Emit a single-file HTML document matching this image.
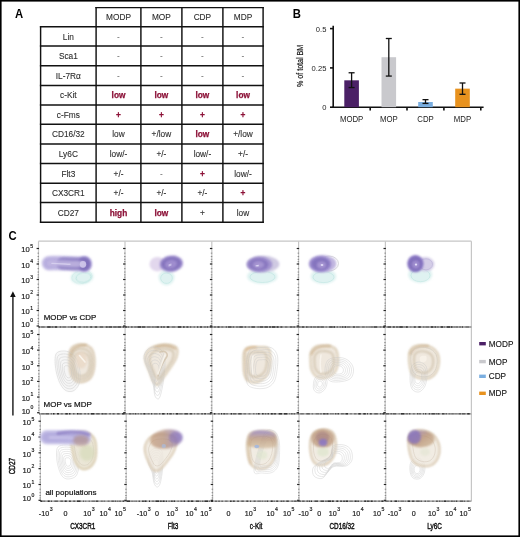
<!DOCTYPE html><html><head><meta charset="utf-8"><style>
html,body{margin:0;padding:0;background:#fff;}
#r{position:relative;width:520px;height:537px;overflow:hidden;background:#fff;}
svg{position:absolute;left:0;top:0;filter:blur(0.25px);}
text{font-family:"Liberation Sans",sans-serif;}
</style></head><body><div id="r">
<svg width="520" height="537" viewBox="0 0 520 537">
<defs><filter id="b1" filterUnits="userSpaceOnUse" x="0" y="0" width="520" height="537"><feGaussianBlur stdDeviation="0.9"/></filter><filter id="b2" filterUnits="userSpaceOnUse" x="0" y="0" width="520" height="537"><feGaussianBlur stdDeviation="1.6"/></filter><filter id="b05" filterUnits="userSpaceOnUse" x="0" y="0" width="520" height="537"><feGaussianBlur stdDeviation="0.45"/></filter></defs>
<text transform="translate(14.9,17.6) scale(0.92,1)" font-size="12.3" font-weight="bold" fill="#000">A</text>
<text transform="translate(292.8,17.8) scale(0.92,1)" font-size="12.3" font-weight="bold" fill="#000">B</text>
<text transform="translate(8.6,239.5) scale(0.92,1)" font-size="12.3" font-weight="bold" fill="#000">C</text>
<g stroke="#111" stroke-width="1.45"><line x1="40.6" y1="26.075" x2="40.6" y2="222.92499999999998"/><line x1="96.1" y1="6.875" x2="96.1" y2="222.92499999999998"/><line x1="140.9" y1="6.875" x2="140.9" y2="222.92499999999998"/><line x1="181.9" y1="6.875" x2="181.9" y2="222.92499999999998"/><line x1="222.9" y1="6.875" x2="222.9" y2="222.92499999999998"/><line x1="263.1" y1="6.875" x2="263.1" y2="222.92499999999998"/><line x1="95.375" y1="7.6" x2="263.82500000000005" y2="7.6"/><line x1="39.875" y1="26.8" x2="263.82500000000005" y2="26.8"/><line x1="39.875" y1="46.0" x2="263.82500000000005" y2="46.0"/><line x1="39.875" y1="65.8" x2="263.82500000000005" y2="65.8"/><line x1="39.875" y1="85.5" x2="263.82500000000005" y2="85.5"/><line x1="39.875" y1="105.0" x2="263.82500000000005" y2="105.0"/><line x1="39.875" y1="124.3" x2="263.82500000000005" y2="124.3"/><line x1="39.875" y1="144.0" x2="263.82500000000005" y2="144.0"/><line x1="39.875" y1="163.5" x2="263.82500000000005" y2="163.5"/><line x1="39.875" y1="183.3" x2="263.82500000000005" y2="183.3"/><line x1="39.875" y1="202.5" x2="263.82500000000005" y2="202.5"/><line x1="39.875" y1="222.2" x2="263.82500000000005" y2="222.2"/></g>
<text x="118.50" y="20.40" font-size="8.3" fill="#2b2b2b" stroke="#2b2b2b" stroke-width="0.1" text-anchor="middle">MODP</text>
<text x="161.40" y="20.40" font-size="8.3" fill="#2b2b2b" stroke="#2b2b2b" stroke-width="0.1" text-anchor="middle">MOP</text>
<text x="202.40" y="20.40" font-size="8.3" fill="#2b2b2b" stroke="#2b2b2b" stroke-width="0.1" text-anchor="middle">CDP</text>
<text x="243.00" y="20.40" font-size="8.3" fill="#2b2b2b" stroke="#2b2b2b" stroke-width="0.1" text-anchor="middle">MDP</text>
<text x="68.35" y="39.60" font-size="8.3" fill="#2b2b2b" stroke="#2b2b2b" stroke-width="0.1" text-anchor="middle">Lin</text>
<text x="118.50" y="39.60" font-size="8.3" fill="#666" stroke="none" stroke-width="0.1" text-anchor="middle">-</text>
<text x="161.40" y="39.60" font-size="8.3" fill="#666" stroke="none" stroke-width="0.1" text-anchor="middle">-</text>
<text x="202.40" y="39.60" font-size="8.3" fill="#666" stroke="none" stroke-width="0.1" text-anchor="middle">-</text>
<text x="243.00" y="39.60" font-size="8.3" fill="#666" stroke="none" stroke-width="0.1" text-anchor="middle">-</text>
<text x="68.35" y="59.10" font-size="8.3" fill="#2b2b2b" stroke="#2b2b2b" stroke-width="0.1" text-anchor="middle">Sca1</text>
<text x="118.50" y="59.10" font-size="8.3" fill="#666" stroke="none" stroke-width="0.1" text-anchor="middle">-</text>
<text x="161.40" y="59.10" font-size="8.3" fill="#666" stroke="none" stroke-width="0.1" text-anchor="middle">-</text>
<text x="202.40" y="59.10" font-size="8.3" fill="#666" stroke="none" stroke-width="0.1" text-anchor="middle">-</text>
<text x="243.00" y="59.10" font-size="8.3" fill="#666" stroke="none" stroke-width="0.1" text-anchor="middle">-</text>
<text x="68.35" y="78.85" font-size="8.3" fill="#2b2b2b" stroke="#2b2b2b" stroke-width="0.1" text-anchor="middle">IL-7Rα</text>
<text x="118.50" y="78.85" font-size="8.3" fill="#666" stroke="none" stroke-width="0.1" text-anchor="middle">-</text>
<text x="161.40" y="78.85" font-size="8.3" fill="#666" stroke="none" stroke-width="0.1" text-anchor="middle">-</text>
<text x="202.40" y="78.85" font-size="8.3" fill="#666" stroke="none" stroke-width="0.1" text-anchor="middle">-</text>
<text x="243.00" y="78.85" font-size="8.3" fill="#666" stroke="none" stroke-width="0.1" text-anchor="middle">-</text>
<text x="68.35" y="98.45" font-size="8.3" fill="#2b2b2b" stroke="#2b2b2b" stroke-width="0.1" text-anchor="middle">c-Kit</text>
<text x="118.50" y="98.45" font-size="8.3" font-weight="bold" fill="#8c1238" stroke="#8c1238" stroke-width="0.25" text-anchor="middle">low</text>
<text x="161.40" y="98.45" font-size="8.3" font-weight="bold" fill="#8c1238" stroke="#8c1238" stroke-width="0.25" text-anchor="middle">low</text>
<text x="202.40" y="98.45" font-size="8.3" font-weight="bold" fill="#8c1238" stroke="#8c1238" stroke-width="0.25" text-anchor="middle">low</text>
<text x="243.00" y="98.45" font-size="8.3" font-weight="bold" fill="#8c1238" stroke="#8c1238" stroke-width="0.25" text-anchor="middle">low</text>
<text x="68.35" y="117.85" font-size="8.3" fill="#2b2b2b" stroke="#2b2b2b" stroke-width="0.1" text-anchor="middle">c-Fms</text>
<text x="118.50" y="117.85" font-size="8.3" font-weight="bold" fill="#8c1238" stroke="#8c1238" stroke-width="0.25" text-anchor="middle">+</text>
<text x="161.40" y="117.85" font-size="8.3" font-weight="bold" fill="#8c1238" stroke="#8c1238" stroke-width="0.25" text-anchor="middle">+</text>
<text x="202.40" y="117.85" font-size="8.3" font-weight="bold" fill="#8c1238" stroke="#8c1238" stroke-width="0.25" text-anchor="middle">+</text>
<text x="243.00" y="117.85" font-size="8.3" font-weight="bold" fill="#8c1238" stroke="#8c1238" stroke-width="0.25" text-anchor="middle">+</text>
<text x="68.35" y="137.35" font-size="8.3" fill="#2b2b2b" stroke="#2b2b2b" stroke-width="0.1" text-anchor="middle">CD16/32</text>
<text x="118.50" y="137.35" font-size="8.3" fill="#2b2b2b" stroke="#2b2b2b" stroke-width="0.1" text-anchor="middle">low</text>
<text x="161.40" y="137.35" font-size="8.3" fill="#2b2b2b" stroke="#2b2b2b" stroke-width="0.1" text-anchor="middle">+/low</text>
<text x="202.40" y="137.35" font-size="8.3" font-weight="bold" fill="#8c1238" stroke="#8c1238" stroke-width="0.25" text-anchor="middle">low</text>
<text x="243.00" y="137.35" font-size="8.3" fill="#2b2b2b" stroke="#2b2b2b" stroke-width="0.1" text-anchor="middle">+/low</text>
<text x="68.35" y="156.95" font-size="8.3" fill="#2b2b2b" stroke="#2b2b2b" stroke-width="0.1" text-anchor="middle">Ly6C</text>
<text x="118.50" y="156.95" font-size="8.3" fill="#2b2b2b" stroke="#2b2b2b" stroke-width="0.1" text-anchor="middle">low/-</text>
<text x="161.40" y="156.95" font-size="8.3" fill="#2b2b2b" stroke="#2b2b2b" stroke-width="0.1" text-anchor="middle">+/-</text>
<text x="202.40" y="156.95" font-size="8.3" fill="#2b2b2b" stroke="#2b2b2b" stroke-width="0.1" text-anchor="middle">low/-</text>
<text x="243.00" y="156.95" font-size="8.3" fill="#2b2b2b" stroke="#2b2b2b" stroke-width="0.1" text-anchor="middle">+/-</text>
<text x="68.35" y="176.60" font-size="8.3" fill="#2b2b2b" stroke="#2b2b2b" stroke-width="0.1" text-anchor="middle">Flt3</text>
<text x="118.50" y="176.60" font-size="8.3" fill="#2b2b2b" stroke="#2b2b2b" stroke-width="0.1" text-anchor="middle">+/-</text>
<text x="161.40" y="176.60" font-size="8.3" fill="#666" stroke="none" stroke-width="0.1" text-anchor="middle">-</text>
<text x="202.40" y="176.60" font-size="8.3" font-weight="bold" fill="#8c1238" stroke="#8c1238" stroke-width="0.25" text-anchor="middle">+</text>
<text x="243.00" y="176.60" font-size="8.3" fill="#2b2b2b" stroke="#2b2b2b" stroke-width="0.1" text-anchor="middle">low/-</text>
<text x="68.35" y="196.10" font-size="8.3" fill="#2b2b2b" stroke="#2b2b2b" stroke-width="0.1" text-anchor="middle">CX3CR1</text>
<text x="118.50" y="196.10" font-size="8.3" fill="#2b2b2b" stroke="#2b2b2b" stroke-width="0.1" text-anchor="middle">+/-</text>
<text x="161.40" y="196.10" font-size="8.3" fill="#2b2b2b" stroke="#2b2b2b" stroke-width="0.1" text-anchor="middle">+/-</text>
<text x="202.40" y="196.10" font-size="8.3" fill="#2b2b2b" stroke="#2b2b2b" stroke-width="0.1" text-anchor="middle">+/-</text>
<text x="243.00" y="196.10" font-size="8.3" font-weight="bold" fill="#8c1238" stroke="#8c1238" stroke-width="0.25" text-anchor="middle">+</text>
<text x="68.35" y="215.55" font-size="8.3" fill="#2b2b2b" stroke="#2b2b2b" stroke-width="0.1" text-anchor="middle">CD27</text>
<text x="118.50" y="215.55" font-size="8.3" font-weight="bold" fill="#8c1238" stroke="#8c1238" stroke-width="0.25" text-anchor="middle">high</text>
<text x="161.40" y="215.55" font-size="8.3" font-weight="bold" fill="#8c1238" stroke="#8c1238" stroke-width="0.25" text-anchor="middle">low</text>
<text x="202.40" y="215.55" font-size="8.3" fill="#2b2b2b" stroke="#2b2b2b" stroke-width="0.1" text-anchor="middle">+</text>
<text x="243.00" y="215.55" font-size="8.3" fill="#2b2b2b" stroke="#2b2b2b" stroke-width="0.1" text-anchor="middle">low</text>
<g stroke="#111" stroke-width="1.6" fill="none"><line x1="333.2" y1="25.8" x2="333.2" y2="108.0"/><line x1="332.4" y1="107.2" x2="483.6" y2="107.2"/><line x1="330" y1="28.6" x2="333.2" y2="28.6"/><line x1="330" y1="67.90" x2="333.2" y2="67.90"/><line x1="330" y1="107.2" x2="333.2" y2="107.2"/><line x1="370.2" y1="107.2" x2="370.2" y2="110.6"/><line x1="407.0" y1="107.2" x2="407.0" y2="110.6"/><line x1="443.9" y1="107.2" x2="443.9" y2="110.6"/><line x1="480.8" y1="107.2" x2="480.8" y2="110.6"/></g>
<g font-size="8" fill="#222" text-anchor="end"><text transform="translate(326.4,31.50) scale(0.95,1)">0.5</text><text transform="translate(326.4,70.80) scale(0.95,1)">0.25</text><text transform="translate(326.4,110.10) scale(0.95,1)">0</text></g>
<text transform="translate(302.8,65.9) rotate(-90) scale(0.84,1)" font-size="8.5" fill="#1a1a1a" stroke="#1a1a1a" stroke-width="0.2" text-anchor="middle">% of total BM</text>
<rect x="344.30" y="80.32" width="14.6" height="26.88" fill="#4b2066"/>
<rect x="381.50" y="57.21" width="14.6" height="49.99" fill="#c9c9cd"/>
<rect x="418.20" y="102.01" width="14.6" height="5.19" fill="#7aaee0"/>
<rect x="455.20" y="88.65" width="14.6" height="18.55" fill="#e8921e"/>
<g stroke="#111" stroke-width="1.3"><line x1="351.6" y1="72.77" x2="351.6" y2="87.55"/><line x1="348.6" y1="72.77" x2="354.6" y2="72.77"/><line x1="348.6" y1="87.55" x2="354.6" y2="87.55"/></g>
<g stroke="#111" stroke-width="1.3"><line x1="388.8" y1="38.50" x2="388.8" y2="76.07"/><line x1="385.8" y1="38.50" x2="391.8" y2="38.50"/><line x1="385.8" y1="76.07" x2="391.8" y2="76.07"/></g>
<g stroke="#111" stroke-width="1.3"><line x1="425.5" y1="99.65" x2="425.5" y2="103.43"/><line x1="422.5" y1="99.65" x2="428.5" y2="99.65"/><line x1="422.5" y1="103.43" x2="428.5" y2="103.43"/></g>
<g stroke="#111" stroke-width="1.3"><line x1="462.5" y1="82.99" x2="462.5" y2="94.31"/><line x1="459.5" y1="82.99" x2="465.5" y2="82.99"/><line x1="459.5" y1="94.31" x2="465.5" y2="94.31"/></g>
<g font-size="8.4" fill="#222" text-anchor="middle"><text transform="translate(351.6,121.9) scale(0.93,1)">MODP</text><text transform="translate(388.8,121.9) scale(0.93,1)">MOP</text><text transform="translate(425.5,121.9) scale(0.93,1)">CDP</text><text transform="translate(462.5,121.9) scale(0.93,1)">MDP</text></g>
<g stroke="#c6c6c6" stroke-width="1.2"><line x1="38.5" y1="241.2" x2="471.4" y2="241.2"/><line x1="38.5" y1="241.2" x2="38.5" y2="327.0"/><line x1="125.0" y1="241.2" x2="125.0" y2="327.0"/><line x1="211.8" y1="241.2" x2="211.8" y2="327.0"/><line x1="298.6" y1="241.2" x2="298.6" y2="327.0"/><line x1="385.4" y1="241.2" x2="385.4" y2="327.0"/><line x1="471.4" y1="241.2" x2="471.4" y2="327.0"/><line x1="39.0" y1="327.0" x2="39.0" y2="413.8"/><line x1="125.1" y1="327.0" x2="125.1" y2="413.8"/><line x1="211.8" y1="327.0" x2="211.8" y2="413.8"/><line x1="298.5" y1="327.0" x2="298.5" y2="413.8"/><line x1="385.2" y1="327.0" x2="385.2" y2="413.8"/><line x1="471.4" y1="327.0" x2="471.4" y2="413.8"/><line x1="40.4" y1="413.8" x2="40.4" y2="501.2"/><line x1="126.2" y1="413.8" x2="126.2" y2="501.2"/><line x1="212.6" y1="413.8" x2="212.6" y2="501.2"/><line x1="299.0" y1="413.8" x2="299.0" y2="501.2"/><line x1="385.7" y1="413.8" x2="385.7" y2="501.2"/><line x1="471.4" y1="413.8" x2="471.4" y2="501.2"/></g>
<g stroke="#8a8a8a" stroke-width="1.3"><line x1="38.5" y1="327.0" x2="471.4" y2="327.0"/><line x1="39.0" y1="413.8" x2="471.4" y2="413.8"/><line x1="40.4" y1="501.2" x2="471.4" y2="501.2"/></g>
<g stroke="#111" stroke-width="1.5"><line x1="38.5" y1="327.0" x2="40.0" y2="327.0" stroke-opacity="0.65"/><line x1="41.2" y1="327.0" x2="44.7" y2="327.0" stroke-opacity="0.35"/><line x1="47.2" y1="327.0" x2="50.7" y2="327.0" stroke-opacity="0.8"/><line x1="51.5" y1="327.0" x2="53.5" y2="327.0" stroke-opacity="0.5"/><line x1="54.7" y1="327.0" x2="57.2" y2="327.0" stroke-opacity="0.8"/><line x1="59.7" y1="327.0" x2="61.2" y2="327.0" stroke-opacity="0.5"/><line x1="62.4" y1="327.0" x2="65.9" y2="327.0" stroke-opacity="0.35"/><line x1="68.4" y1="327.0" x2="69.4" y2="327.0" stroke-opacity="0.35"/><line x1="70.6" y1="327.0" x2="72.6" y2="327.0" stroke-opacity="0.65"/><line x1="73.4" y1="327.0" x2="75.9" y2="327.0" stroke-opacity="0.8"/><line x1="78.4" y1="327.0" x2="80.9" y2="327.0" stroke-opacity="0.5"/><line x1="83.4" y1="327.0" x2="85.4" y2="327.0" stroke-opacity="0.35"/><line x1="86.2" y1="327.0" x2="87.7" y2="327.0" stroke-opacity="0.5"/><line x1="90.2" y1="327.0" x2="92.2" y2="327.0" stroke-opacity="0.65"/><line x1="94.7" y1="327.0" x2="97.2" y2="327.0" stroke-opacity="0.65"/><line x1="99.7" y1="327.0" x2="103.2" y2="327.0" stroke-opacity="0.5"/><line x1="105.7" y1="327.0" x2="107.7" y2="327.0" stroke-opacity="0.65"/><line x1="108.5" y1="327.0" x2="112.0" y2="327.0" stroke-opacity="0.65"/><line x1="113.2" y1="327.0" x2="116.7" y2="327.0" stroke-opacity="0.5"/><line x1="117.5" y1="327.0" x2="121.0" y2="327.0" stroke-opacity="0.65"/><line x1="122.8" y1="327.0" x2="123.8" y2="327.0" stroke-opacity="0.8"/><line x1="124.6" y1="327.0" x2="127.1" y2="327.0" stroke-opacity="0.65"/><line x1="127.9" y1="327.0" x2="128.9" y2="327.0" stroke-opacity="0.5"/><line x1="131.4" y1="327.0" x2="132.4" y2="327.0" stroke-opacity="0.8"/><line x1="134.2" y1="327.0" x2="136.7" y2="327.0" stroke-opacity="0.35"/><line x1="137.5" y1="327.0" x2="141.0" y2="327.0" stroke-opacity="0.8"/><line x1="141.8" y1="327.0" x2="145.3" y2="327.0" stroke-opacity="0.65"/><line x1="147.1" y1="327.0" x2="150.6" y2="327.0" stroke-opacity="0.35"/><line x1="151.8" y1="327.0" x2="153.8" y2="327.0" stroke-opacity="0.35"/><line x1="154.6" y1="327.0" x2="155.6" y2="327.0" stroke-opacity="0.5"/><line x1="156.4" y1="327.0" x2="158.9" y2="327.0" stroke-opacity="0.65"/><line x1="160.7" y1="327.0" x2="162.2" y2="327.0" stroke-opacity="0.65"/><line x1="163.0" y1="327.0" x2="165.0" y2="327.0" stroke-opacity="0.5"/><line x1="166.8" y1="327.0" x2="169.3" y2="327.0" stroke-opacity="0.8"/><line x1="171.8" y1="327.0" x2="175.3" y2="327.0" stroke-opacity="0.35"/><line x1="177.8" y1="327.0" x2="181.3" y2="327.0" stroke-opacity="0.8"/><line x1="183.1" y1="327.0" x2="184.6" y2="327.0" stroke-opacity="0.8"/><line x1="186.4" y1="327.0" x2="188.4" y2="327.0" stroke-opacity="0.65"/><line x1="190.2" y1="327.0" x2="191.2" y2="327.0" stroke-opacity="0.65"/><line x1="193.7" y1="327.0" x2="194.7" y2="327.0" stroke-opacity="0.5"/><line x1="197.2" y1="327.0" x2="198.2" y2="327.0" stroke-opacity="0.8"/><line x1="200.0" y1="327.0" x2="202.0" y2="327.0" stroke-opacity="0.65"/><line x1="203.8" y1="327.0" x2="206.3" y2="327.0" stroke-opacity="0.35"/><line x1="207.1" y1="327.0" x2="208.1" y2="327.0" stroke-opacity="0.65"/><line x1="209.9" y1="327.0" x2="212.4" y2="327.0" stroke-opacity="0.65"/><line x1="214.2" y1="327.0" x2="215.7" y2="327.0" stroke-opacity="0.5"/><line x1="217.5" y1="327.0" x2="219.5" y2="327.0" stroke-opacity="0.65"/><line x1="221.3" y1="327.0" x2="223.3" y2="327.0" stroke-opacity="0.35"/><line x1="225.8" y1="327.0" x2="226.8" y2="327.0" stroke-opacity="0.65"/><line x1="228.0" y1="327.0" x2="231.5" y2="327.0" stroke-opacity="0.65"/><line x1="232.7" y1="327.0" x2="234.2" y2="327.0" stroke-opacity="0.5"/><line x1="236.0" y1="327.0" x2="238.5" y2="327.0" stroke-opacity="0.35"/><line x1="239.3" y1="327.0" x2="242.8" y2="327.0" stroke-opacity="0.65"/><line x1="244.6" y1="327.0" x2="246.1" y2="327.0" stroke-opacity="0.5"/><line x1="248.6" y1="327.0" x2="249.6" y2="327.0" stroke-opacity="0.5"/><line x1="251.4" y1="327.0" x2="254.9" y2="327.0" stroke-opacity="0.65"/><line x1="257.4" y1="327.0" x2="258.9" y2="327.0" stroke-opacity="0.35"/><line x1="259.7" y1="327.0" x2="263.2" y2="327.0" stroke-opacity="0.65"/><line x1="264.4" y1="327.0" x2="267.9" y2="327.0" stroke-opacity="0.65"/><line x1="269.1" y1="327.0" x2="271.1" y2="327.0" stroke-opacity="0.65"/><line x1="271.9" y1="327.0" x2="275.4" y2="327.0" stroke-opacity="0.8"/><line x1="276.6" y1="327.0" x2="278.6" y2="327.0" stroke-opacity="0.8"/><line x1="280.4" y1="327.0" x2="282.4" y2="327.0" stroke-opacity="0.65"/><line x1="284.9" y1="327.0" x2="287.4" y2="327.0" stroke-opacity="0.35"/><line x1="289.9" y1="327.0" x2="292.4" y2="327.0" stroke-opacity="0.5"/><line x1="293.6" y1="327.0" x2="294.6" y2="327.0" stroke-opacity="0.8"/><line x1="297.1" y1="327.0" x2="300.6" y2="327.0" stroke-opacity="0.35"/><line x1="301.8" y1="327.0" x2="304.3" y2="327.0" stroke-opacity="0.65"/><line x1="306.1" y1="327.0" x2="307.6" y2="327.0" stroke-opacity="0.65"/><line x1="308.4" y1="327.0" x2="309.4" y2="327.0" stroke-opacity="0.35"/><line x1="310.6" y1="327.0" x2="311.6" y2="327.0" stroke-opacity="0.8"/><line x1="312.8" y1="327.0" x2="316.3" y2="327.0" stroke-opacity="0.35"/><line x1="317.1" y1="327.0" x2="319.6" y2="327.0" stroke-opacity="0.5"/><line x1="320.4" y1="327.0" x2="323.9" y2="327.0" stroke-opacity="0.5"/><line x1="325.7" y1="327.0" x2="326.7" y2="327.0" stroke-opacity="0.35"/><line x1="329.2" y1="327.0" x2="332.7" y2="327.0" stroke-opacity="0.65"/><line x1="333.5" y1="327.0" x2="335.0" y2="327.0" stroke-opacity="0.8"/><line x1="336.8" y1="327.0" x2="337.8" y2="327.0" stroke-opacity="0.5"/><line x1="339.6" y1="327.0" x2="341.1" y2="327.0" stroke-opacity="0.35"/><line x1="341.9" y1="327.0" x2="343.4" y2="327.0" stroke-opacity="0.65"/><line x1="344.6" y1="327.0" x2="346.1" y2="327.0" stroke-opacity="0.8"/><line x1="346.9" y1="327.0" x2="350.4" y2="327.0" stroke-opacity="0.35"/><line x1="352.9" y1="327.0" x2="354.9" y2="327.0" stroke-opacity="0.65"/><line x1="356.1" y1="327.0" x2="359.6" y2="327.0" stroke-opacity="0.35"/><line x1="362.1" y1="327.0" x2="364.6" y2="327.0" stroke-opacity="0.35"/><line x1="366.4" y1="327.0" x2="367.4" y2="327.0" stroke-opacity="0.35"/><line x1="368.6" y1="327.0" x2="369.6" y2="327.0" stroke-opacity="0.35"/><line x1="370.4" y1="327.0" x2="372.9" y2="327.0" stroke-opacity="0.35"/><line x1="373.7" y1="327.0" x2="377.2" y2="327.0" stroke-opacity="0.65"/><line x1="379.7" y1="327.0" x2="381.2" y2="327.0" stroke-opacity="0.35"/><line x1="383.0" y1="327.0" x2="385.0" y2="327.0" stroke-opacity="0.8"/><line x1="387.5" y1="327.0" x2="391.0" y2="327.0" stroke-opacity="0.65"/><line x1="392.8" y1="327.0" x2="394.8" y2="327.0" stroke-opacity="0.65"/><line x1="396.0" y1="327.0" x2="398.5" y2="327.0" stroke-opacity="0.5"/><line x1="399.3" y1="327.0" x2="402.8" y2="327.0" stroke-opacity="0.8"/><line x1="403.6" y1="327.0" x2="404.6" y2="327.0" stroke-opacity="0.35"/><line x1="405.8" y1="327.0" x2="407.8" y2="327.0" stroke-opacity="0.8"/><line x1="410.3" y1="327.0" x2="411.3" y2="327.0" stroke-opacity="0.35"/><line x1="413.8" y1="327.0" x2="415.8" y2="327.0" stroke-opacity="0.65"/><line x1="418.3" y1="327.0" x2="420.8" y2="327.0" stroke-opacity="0.8"/><line x1="423.3" y1="327.0" x2="424.3" y2="327.0" stroke-opacity="0.5"/><line x1="425.5" y1="327.0" x2="429.0" y2="327.0" stroke-opacity="0.35"/><line x1="430.8" y1="327.0" x2="433.3" y2="327.0" stroke-opacity="0.8"/><line x1="434.5" y1="327.0" x2="436.0" y2="327.0" stroke-opacity="0.65"/><line x1="436.8" y1="327.0" x2="438.8" y2="327.0" stroke-opacity="0.35"/><line x1="440.6" y1="327.0" x2="443.1" y2="327.0" stroke-opacity="0.8"/><line x1="443.9" y1="327.0" x2="444.9" y2="327.0" stroke-opacity="0.35"/><line x1="446.7" y1="327.0" x2="450.2" y2="327.0" stroke-opacity="0.8"/><line x1="451.0" y1="327.0" x2="452.5" y2="327.0" stroke-opacity="0.8"/><line x1="453.7" y1="327.0" x2="454.7" y2="327.0" stroke-opacity="0.35"/><line x1="455.5" y1="327.0" x2="458.0" y2="327.0" stroke-opacity="0.35"/><line x1="459.2" y1="327.0" x2="461.2" y2="327.0" stroke-opacity="0.35"/><line x1="462.0" y1="327.0" x2="463.0" y2="327.0" stroke-opacity="0.65"/><line x1="465.5" y1="327.0" x2="469.0" y2="327.0" stroke-opacity="0.35"/><line x1="39.0" y1="413.8" x2="40.0" y2="413.8" stroke-opacity="0.35"/><line x1="41.2" y1="413.8" x2="44.7" y2="413.8" stroke-opacity="0.35"/><line x1="45.5" y1="413.8" x2="49.0" y2="413.8" stroke-opacity="0.5"/><line x1="50.8" y1="413.8" x2="51.8" y2="413.8" stroke-opacity="0.5"/><line x1="53.0" y1="413.8" x2="54.5" y2="413.8" stroke-opacity="0.8"/><line x1="57.0" y1="413.8" x2="59.0" y2="413.8" stroke-opacity="0.8"/><line x1="60.8" y1="413.8" x2="62.8" y2="413.8" stroke-opacity="0.35"/><line x1="65.3" y1="413.8" x2="67.8" y2="413.8" stroke-opacity="0.8"/><line x1="69.0" y1="413.8" x2="70.5" y2="413.8" stroke-opacity="0.8"/><line x1="73.0" y1="413.8" x2="74.5" y2="413.8" stroke-opacity="0.5"/><line x1="77.0" y1="413.8" x2="78.5" y2="413.8" stroke-opacity="0.8"/><line x1="79.3" y1="413.8" x2="81.8" y2="413.8" stroke-opacity="0.5"/><line x1="84.3" y1="413.8" x2="85.8" y2="413.8" stroke-opacity="0.5"/><line x1="87.6" y1="413.8" x2="89.1" y2="413.8" stroke-opacity="0.5"/><line x1="90.9" y1="413.8" x2="94.4" y2="413.8" stroke-opacity="0.8"/><line x1="96.2" y1="413.8" x2="99.7" y2="413.8" stroke-opacity="0.5"/><line x1="101.5" y1="413.8" x2="103.5" y2="413.8" stroke-opacity="0.65"/><line x1="104.3" y1="413.8" x2="106.8" y2="413.8" stroke-opacity="0.5"/><line x1="109.3" y1="413.8" x2="110.8" y2="413.8" stroke-opacity="0.5"/><line x1="112.6" y1="413.8" x2="114.6" y2="413.8" stroke-opacity="0.5"/><line x1="117.1" y1="413.8" x2="119.6" y2="413.8" stroke-opacity="0.5"/><line x1="122.1" y1="413.8" x2="124.6" y2="413.8" stroke-opacity="0.8"/><line x1="125.4" y1="413.8" x2="126.4" y2="413.8" stroke-opacity="0.35"/><line x1="128.9" y1="413.8" x2="131.4" y2="413.8" stroke-opacity="0.5"/><line x1="132.6" y1="413.8" x2="133.6" y2="413.8" stroke-opacity="0.65"/><line x1="134.8" y1="413.8" x2="136.3" y2="413.8" stroke-opacity="0.65"/><line x1="137.5" y1="413.8" x2="139.0" y2="413.8" stroke-opacity="0.35"/><line x1="140.2" y1="413.8" x2="142.2" y2="413.8" stroke-opacity="0.35"/><line x1="143.4" y1="413.8" x2="145.4" y2="413.8" stroke-opacity="0.8"/><line x1="146.6" y1="413.8" x2="147.6" y2="413.8" stroke-opacity="0.35"/><line x1="148.4" y1="413.8" x2="149.4" y2="413.8" stroke-opacity="0.65"/><line x1="151.2" y1="413.8" x2="152.2" y2="413.8" stroke-opacity="0.8"/><line x1="154.0" y1="413.8" x2="157.5" y2="413.8" stroke-opacity="0.35"/><line x1="159.3" y1="413.8" x2="160.3" y2="413.8" stroke-opacity="0.65"/><line x1="162.1" y1="413.8" x2="164.6" y2="413.8" stroke-opacity="0.8"/><line x1="167.1" y1="413.8" x2="168.1" y2="413.8" stroke-opacity="0.8"/><line x1="169.3" y1="413.8" x2="171.8" y2="413.8" stroke-opacity="0.65"/><line x1="173.0" y1="413.8" x2="174.0" y2="413.8" stroke-opacity="0.35"/><line x1="175.8" y1="413.8" x2="178.3" y2="413.8" stroke-opacity="0.8"/><line x1="179.1" y1="413.8" x2="182.6" y2="413.8" stroke-opacity="0.35"/><line x1="184.4" y1="413.8" x2="187.9" y2="413.8" stroke-opacity="0.65"/><line x1="189.7" y1="413.8" x2="192.2" y2="413.8" stroke-opacity="0.65"/><line x1="194.0" y1="413.8" x2="195.0" y2="413.8" stroke-opacity="0.35"/><line x1="196.8" y1="413.8" x2="199.3" y2="413.8" stroke-opacity="0.35"/><line x1="201.1" y1="413.8" x2="203.1" y2="413.8" stroke-opacity="0.5"/><line x1="204.3" y1="413.8" x2="205.8" y2="413.8" stroke-opacity="0.8"/><line x1="207.6" y1="413.8" x2="208.6" y2="413.8" stroke-opacity="0.5"/><line x1="209.4" y1="413.8" x2="211.4" y2="413.8" stroke-opacity="0.65"/><line x1="213.9" y1="413.8" x2="215.4" y2="413.8" stroke-opacity="0.8"/><line x1="217.9" y1="413.8" x2="219.9" y2="413.8" stroke-opacity="0.35"/><line x1="221.1" y1="413.8" x2="222.1" y2="413.8" stroke-opacity="0.8"/><line x1="223.3" y1="413.8" x2="225.3" y2="413.8" stroke-opacity="0.65"/><line x1="226.1" y1="413.8" x2="228.1" y2="413.8" stroke-opacity="0.35"/><line x1="230.6" y1="413.8" x2="232.1" y2="413.8" stroke-opacity="0.8"/><line x1="232.9" y1="413.8" x2="236.4" y2="413.8" stroke-opacity="0.5"/><line x1="238.2" y1="413.8" x2="241.7" y2="413.8" stroke-opacity="0.65"/><line x1="243.5" y1="413.8" x2="246.0" y2="413.8" stroke-opacity="0.35"/><line x1="248.5" y1="413.8" x2="250.5" y2="413.8" stroke-opacity="0.35"/><line x1="253.0" y1="413.8" x2="254.5" y2="413.8" stroke-opacity="0.35"/><line x1="256.3" y1="413.8" x2="257.3" y2="413.8" stroke-opacity="0.5"/><line x1="258.1" y1="413.8" x2="259.6" y2="413.8" stroke-opacity="0.8"/><line x1="262.1" y1="413.8" x2="263.6" y2="413.8" stroke-opacity="0.8"/><line x1="264.8" y1="413.8" x2="266.3" y2="413.8" stroke-opacity="0.5"/><line x1="267.5" y1="413.8" x2="269.0" y2="413.8" stroke-opacity="0.65"/><line x1="270.8" y1="413.8" x2="272.8" y2="413.8" stroke-opacity="0.8"/><line x1="273.6" y1="413.8" x2="276.1" y2="413.8" stroke-opacity="0.65"/><line x1="278.6" y1="413.8" x2="282.1" y2="413.8" stroke-opacity="0.8"/><line x1="283.9" y1="413.8" x2="287.4" y2="413.8" stroke-opacity="0.8"/><line x1="289.2" y1="413.8" x2="290.2" y2="413.8" stroke-opacity="0.35"/><line x1="291.4" y1="413.8" x2="292.4" y2="413.8" stroke-opacity="0.8"/><line x1="293.6" y1="413.8" x2="295.1" y2="413.8" stroke-opacity="0.5"/><line x1="297.6" y1="413.8" x2="299.1" y2="413.8" stroke-opacity="0.35"/><line x1="300.3" y1="413.8" x2="303.8" y2="413.8" stroke-opacity="0.35"/><line x1="306.3" y1="413.8" x2="309.8" y2="413.8" stroke-opacity="0.5"/><line x1="311.6" y1="413.8" x2="313.1" y2="413.8" stroke-opacity="0.35"/><line x1="315.6" y1="413.8" x2="319.1" y2="413.8" stroke-opacity="0.35"/><line x1="319.9" y1="413.8" x2="321.9" y2="413.8" stroke-opacity="0.35"/><line x1="323.1" y1="413.8" x2="325.6" y2="413.8" stroke-opacity="0.65"/><line x1="326.4" y1="413.8" x2="328.4" y2="413.8" stroke-opacity="0.65"/><line x1="330.2" y1="413.8" x2="331.7" y2="413.8" stroke-opacity="0.35"/><line x1="332.5" y1="413.8" x2="333.5" y2="413.8" stroke-opacity="0.5"/><line x1="335.3" y1="413.8" x2="336.3" y2="413.8" stroke-opacity="0.8"/><line x1="337.5" y1="413.8" x2="339.0" y2="413.8" stroke-opacity="0.65"/><line x1="341.5" y1="413.8" x2="342.5" y2="413.8" stroke-opacity="0.8"/><line x1="343.3" y1="413.8" x2="344.3" y2="413.8" stroke-opacity="0.5"/><line x1="345.5" y1="413.8" x2="348.0" y2="413.8" stroke-opacity="0.8"/><line x1="350.5" y1="413.8" x2="351.5" y2="413.8" stroke-opacity="0.5"/><line x1="354.0" y1="413.8" x2="356.5" y2="413.8" stroke-opacity="0.35"/><line x1="358.3" y1="413.8" x2="360.8" y2="413.8" stroke-opacity="0.8"/><line x1="363.3" y1="413.8" x2="365.8" y2="413.8" stroke-opacity="0.8"/><line x1="367.0" y1="413.8" x2="368.0" y2="413.8" stroke-opacity="0.65"/><line x1="369.8" y1="413.8" x2="371.8" y2="413.8" stroke-opacity="0.65"/><line x1="374.3" y1="413.8" x2="377.8" y2="413.8" stroke-opacity="0.5"/><line x1="380.3" y1="413.8" x2="381.3" y2="413.8" stroke-opacity="0.65"/><line x1="382.5" y1="413.8" x2="384.5" y2="413.8" stroke-opacity="0.8"/><line x1="385.7" y1="413.8" x2="389.2" y2="413.8" stroke-opacity="0.5"/><line x1="390.4" y1="413.8" x2="391.9" y2="413.8" stroke-opacity="0.5"/><line x1="392.7" y1="413.8" x2="396.2" y2="413.8" stroke-opacity="0.5"/><line x1="398.7" y1="413.8" x2="399.7" y2="413.8" stroke-opacity="0.35"/><line x1="400.9" y1="413.8" x2="404.4" y2="413.8" stroke-opacity="0.8"/><line x1="405.6" y1="413.8" x2="408.1" y2="413.8" stroke-opacity="0.35"/><line x1="409.3" y1="413.8" x2="410.3" y2="413.8" stroke-opacity="0.8"/><line x1="412.8" y1="413.8" x2="414.8" y2="413.8" stroke-opacity="0.35"/><line x1="417.3" y1="413.8" x2="418.3" y2="413.8" stroke-opacity="0.8"/><line x1="419.5" y1="413.8" x2="420.5" y2="413.8" stroke-opacity="0.8"/><line x1="423.0" y1="413.8" x2="424.0" y2="413.8" stroke-opacity="0.5"/><line x1="425.2" y1="413.8" x2="426.2" y2="413.8" stroke-opacity="0.8"/><line x1="428.7" y1="413.8" x2="430.2" y2="413.8" stroke-opacity="0.65"/><line x1="431.4" y1="413.8" x2="434.9" y2="413.8" stroke-opacity="0.65"/><line x1="435.7" y1="413.8" x2="436.7" y2="413.8" stroke-opacity="0.65"/><line x1="437.5" y1="413.8" x2="439.5" y2="413.8" stroke-opacity="0.65"/><line x1="442.0" y1="413.8" x2="444.5" y2="413.8" stroke-opacity="0.65"/><line x1="445.7" y1="413.8" x2="446.7" y2="413.8" stroke-opacity="0.65"/><line x1="448.5" y1="413.8" x2="450.5" y2="413.8" stroke-opacity="0.35"/><line x1="451.3" y1="413.8" x2="453.8" y2="413.8" stroke-opacity="0.35"/><line x1="454.6" y1="413.8" x2="455.6" y2="413.8" stroke-opacity="0.35"/><line x1="456.4" y1="413.8" x2="457.4" y2="413.8" stroke-opacity="0.35"/><line x1="458.6" y1="413.8" x2="461.1" y2="413.8" stroke-opacity="0.5"/><line x1="461.9" y1="413.8" x2="465.4" y2="413.8" stroke-opacity="0.5"/><line x1="467.2" y1="413.8" x2="469.7" y2="413.8" stroke-opacity="0.8"/><line x1="40.4" y1="501.2" x2="42.4" y2="501.2" stroke-opacity="0.8"/><line x1="43.2" y1="501.2" x2="45.2" y2="501.2" stroke-opacity="0.35"/><line x1="47.7" y1="501.2" x2="49.7" y2="501.2" stroke-opacity="0.8"/><line x1="50.9" y1="501.2" x2="51.9" y2="501.2" stroke-opacity="0.65"/><line x1="54.4" y1="501.2" x2="57.9" y2="501.2" stroke-opacity="0.5"/><line x1="60.4" y1="501.2" x2="62.9" y2="501.2" stroke-opacity="0.5"/><line x1="64.7" y1="501.2" x2="66.7" y2="501.2" stroke-opacity="0.8"/><line x1="69.2" y1="501.2" x2="70.7" y2="501.2" stroke-opacity="0.8"/><line x1="73.2" y1="501.2" x2="75.2" y2="501.2" stroke-opacity="0.5"/><line x1="77.0" y1="501.2" x2="80.5" y2="501.2" stroke-opacity="0.8"/><line x1="83.0" y1="501.2" x2="84.0" y2="501.2" stroke-opacity="0.5"/><line x1="85.2" y1="501.2" x2="86.2" y2="501.2" stroke-opacity="0.35"/><line x1="88.7" y1="501.2" x2="89.7" y2="501.2" stroke-opacity="0.5"/><line x1="91.5" y1="501.2" x2="95.0" y2="501.2" stroke-opacity="0.35"/><line x1="95.8" y1="501.2" x2="98.3" y2="501.2" stroke-opacity="0.65"/><line x1="100.8" y1="501.2" x2="102.8" y2="501.2" stroke-opacity="0.35"/><line x1="103.6" y1="501.2" x2="105.1" y2="501.2" stroke-opacity="0.35"/><line x1="107.6" y1="501.2" x2="109.6" y2="501.2" stroke-opacity="0.35"/><line x1="111.4" y1="501.2" x2="113.9" y2="501.2" stroke-opacity="0.5"/><line x1="114.7" y1="501.2" x2="116.2" y2="501.2" stroke-opacity="0.5"/><line x1="117.0" y1="501.2" x2="118.5" y2="501.2" stroke-opacity="0.35"/><line x1="119.3" y1="501.2" x2="120.8" y2="501.2" stroke-opacity="0.5"/><line x1="122.6" y1="501.2" x2="124.1" y2="501.2" stroke-opacity="0.65"/><line x1="126.6" y1="501.2" x2="130.1" y2="501.2" stroke-opacity="0.8"/><line x1="131.3" y1="501.2" x2="132.8" y2="501.2" stroke-opacity="0.35"/><line x1="133.6" y1="501.2" x2="134.6" y2="501.2" stroke-opacity="0.35"/><line x1="135.4" y1="501.2" x2="136.9" y2="501.2" stroke-opacity="0.35"/><line x1="138.7" y1="501.2" x2="139.7" y2="501.2" stroke-opacity="0.8"/><line x1="142.2" y1="501.2" x2="143.7" y2="501.2" stroke-opacity="0.8"/><line x1="144.5" y1="501.2" x2="146.5" y2="501.2" stroke-opacity="0.8"/><line x1="149.0" y1="501.2" x2="150.0" y2="501.2" stroke-opacity="0.8"/><line x1="151.8" y1="501.2" x2="154.3" y2="501.2" stroke-opacity="0.35"/><line x1="155.5" y1="501.2" x2="159.0" y2="501.2" stroke-opacity="0.8"/><line x1="159.8" y1="501.2" x2="161.8" y2="501.2" stroke-opacity="0.65"/><line x1="162.6" y1="501.2" x2="164.6" y2="501.2" stroke-opacity="0.8"/><line x1="165.8" y1="501.2" x2="166.8" y2="501.2" stroke-opacity="0.8"/><line x1="168.6" y1="501.2" x2="169.6" y2="501.2" stroke-opacity="0.5"/><line x1="170.8" y1="501.2" x2="172.8" y2="501.2" stroke-opacity="0.65"/><line x1="173.6" y1="501.2" x2="175.1" y2="501.2" stroke-opacity="0.8"/><line x1="177.6" y1="501.2" x2="178.6" y2="501.2" stroke-opacity="0.5"/><line x1="180.4" y1="501.2" x2="182.4" y2="501.2" stroke-opacity="0.5"/><line x1="183.6" y1="501.2" x2="185.1" y2="501.2" stroke-opacity="0.8"/><line x1="187.6" y1="501.2" x2="189.6" y2="501.2" stroke-opacity="0.8"/><line x1="190.8" y1="501.2" x2="193.3" y2="501.2" stroke-opacity="0.8"/><line x1="195.8" y1="501.2" x2="199.3" y2="501.2" stroke-opacity="0.65"/><line x1="200.1" y1="501.2" x2="201.1" y2="501.2" stroke-opacity="0.35"/><line x1="202.3" y1="501.2" x2="203.3" y2="501.2" stroke-opacity="0.65"/><line x1="204.5" y1="501.2" x2="208.0" y2="501.2" stroke-opacity="0.8"/><line x1="208.8" y1="501.2" x2="209.8" y2="501.2" stroke-opacity="0.5"/><line x1="211.0" y1="501.2" x2="213.0" y2="501.2" stroke-opacity="0.8"/><line x1="215.5" y1="501.2" x2="216.5" y2="501.2" stroke-opacity="0.8"/><line x1="218.3" y1="501.2" x2="219.8" y2="501.2" stroke-opacity="0.5"/><line x1="221.6" y1="501.2" x2="222.6" y2="501.2" stroke-opacity="0.65"/><line x1="225.1" y1="501.2" x2="227.6" y2="501.2" stroke-opacity="0.35"/><line x1="230.1" y1="501.2" x2="231.6" y2="501.2" stroke-opacity="0.8"/><line x1="232.8" y1="501.2" x2="234.8" y2="501.2" stroke-opacity="0.65"/><line x1="237.3" y1="501.2" x2="238.8" y2="501.2" stroke-opacity="0.65"/><line x1="241.3" y1="501.2" x2="243.8" y2="501.2" stroke-opacity="0.5"/><line x1="246.3" y1="501.2" x2="248.3" y2="501.2" stroke-opacity="0.65"/><line x1="250.1" y1="501.2" x2="251.1" y2="501.2" stroke-opacity="0.65"/><line x1="253.6" y1="501.2" x2="255.6" y2="501.2" stroke-opacity="0.5"/><line x1="257.4" y1="501.2" x2="260.9" y2="501.2" stroke-opacity="0.35"/><line x1="261.7" y1="501.2" x2="263.2" y2="501.2" stroke-opacity="0.35"/><line x1="264.4" y1="501.2" x2="265.9" y2="501.2" stroke-opacity="0.35"/><line x1="266.7" y1="501.2" x2="268.2" y2="501.2" stroke-opacity="0.65"/><line x1="270.7" y1="501.2" x2="272.7" y2="501.2" stroke-opacity="0.8"/><line x1="273.5" y1="501.2" x2="275.0" y2="501.2" stroke-opacity="0.35"/><line x1="276.2" y1="501.2" x2="278.2" y2="501.2" stroke-opacity="0.65"/><line x1="280.7" y1="501.2" x2="281.7" y2="501.2" stroke-opacity="0.8"/><line x1="282.5" y1="501.2" x2="284.5" y2="501.2" stroke-opacity="0.5"/><line x1="286.3" y1="501.2" x2="288.8" y2="501.2" stroke-opacity="0.65"/><line x1="291.3" y1="501.2" x2="293.3" y2="501.2" stroke-opacity="0.35"/><line x1="294.1" y1="501.2" x2="296.6" y2="501.2" stroke-opacity="0.5"/><line x1="297.4" y1="501.2" x2="300.9" y2="501.2" stroke-opacity="0.5"/><line x1="302.1" y1="501.2" x2="304.6" y2="501.2" stroke-opacity="0.5"/><line x1="306.4" y1="501.2" x2="308.4" y2="501.2" stroke-opacity="0.5"/><line x1="309.2" y1="501.2" x2="310.2" y2="501.2" stroke-opacity="0.8"/><line x1="311.0" y1="501.2" x2="312.0" y2="501.2" stroke-opacity="0.8"/><line x1="314.5" y1="501.2" x2="318.0" y2="501.2" stroke-opacity="0.65"/><line x1="320.5" y1="501.2" x2="324.0" y2="501.2" stroke-opacity="0.65"/><line x1="325.2" y1="501.2" x2="326.7" y2="501.2" stroke-opacity="0.5"/><line x1="327.5" y1="501.2" x2="331.0" y2="501.2" stroke-opacity="0.8"/><line x1="331.8" y1="501.2" x2="333.8" y2="501.2" stroke-opacity="0.8"/><line x1="336.3" y1="501.2" x2="338.3" y2="501.2" stroke-opacity="0.8"/><line x1="340.1" y1="501.2" x2="342.1" y2="501.2" stroke-opacity="0.65"/><line x1="343.3" y1="501.2" x2="344.8" y2="501.2" stroke-opacity="0.8"/><line x1="345.6" y1="501.2" x2="348.1" y2="501.2" stroke-opacity="0.8"/><line x1="349.3" y1="501.2" x2="352.8" y2="501.2" stroke-opacity="0.35"/><line x1="354.6" y1="501.2" x2="356.6" y2="501.2" stroke-opacity="0.8"/><line x1="357.4" y1="501.2" x2="358.9" y2="501.2" stroke-opacity="0.65"/><line x1="360.7" y1="501.2" x2="361.7" y2="501.2" stroke-opacity="0.35"/><line x1="364.2" y1="501.2" x2="366.2" y2="501.2" stroke-opacity="0.8"/><line x1="367.0" y1="501.2" x2="369.5" y2="501.2" stroke-opacity="0.65"/><line x1="370.7" y1="501.2" x2="372.7" y2="501.2" stroke-opacity="0.8"/><line x1="373.9" y1="501.2" x2="376.4" y2="501.2" stroke-opacity="0.35"/><line x1="378.2" y1="501.2" x2="380.2" y2="501.2" stroke-opacity="0.35"/><line x1="381.4" y1="501.2" x2="383.4" y2="501.2" stroke-opacity="0.8"/><line x1="385.2" y1="501.2" x2="388.7" y2="501.2" stroke-opacity="0.35"/><line x1="390.5" y1="501.2" x2="392.0" y2="501.2" stroke-opacity="0.65"/><line x1="394.5" y1="501.2" x2="397.0" y2="501.2" stroke-opacity="0.8"/><line x1="397.8" y1="501.2" x2="399.3" y2="501.2" stroke-opacity="0.35"/><line x1="400.5" y1="501.2" x2="404.0" y2="501.2" stroke-opacity="0.35"/><line x1="404.8" y1="501.2" x2="405.8" y2="501.2" stroke-opacity="0.35"/><line x1="407.6" y1="501.2" x2="410.1" y2="501.2" stroke-opacity="0.8"/><line x1="411.9" y1="501.2" x2="414.4" y2="501.2" stroke-opacity="0.65"/><line x1="416.2" y1="501.2" x2="419.7" y2="501.2" stroke-opacity="0.5"/><line x1="420.5" y1="501.2" x2="422.0" y2="501.2" stroke-opacity="0.5"/><line x1="424.5" y1="501.2" x2="426.0" y2="501.2" stroke-opacity="0.5"/><line x1="427.2" y1="501.2" x2="429.7" y2="501.2" stroke-opacity="0.35"/><line x1="432.2" y1="501.2" x2="433.7" y2="501.2" stroke-opacity="0.35"/><line x1="436.2" y1="501.2" x2="437.7" y2="501.2" stroke-opacity="0.65"/><line x1="438.9" y1="501.2" x2="440.4" y2="501.2" stroke-opacity="0.5"/><line x1="441.6" y1="501.2" x2="442.6" y2="501.2" stroke-opacity="0.5"/><line x1="443.8" y1="501.2" x2="446.3" y2="501.2" stroke-opacity="0.8"/><line x1="447.1" y1="501.2" x2="449.6" y2="501.2" stroke-opacity="0.35"/><line x1="450.8" y1="501.2" x2="452.8" y2="501.2" stroke-opacity="0.5"/><line x1="453.6" y1="501.2" x2="454.6" y2="501.2" stroke-opacity="0.65"/><line x1="455.8" y1="501.2" x2="457.3" y2="501.2" stroke-opacity="0.65"/><line x1="459.8" y1="501.2" x2="463.3" y2="501.2" stroke-opacity="0.5"/><line x1="464.1" y1="501.2" x2="465.1" y2="501.2" stroke-opacity="0.5"/><line x1="466.9" y1="501.2" x2="469.4" y2="501.2" stroke-opacity="0.35"/></g>
<g stroke="#222" stroke-width="1.2"><line x1="36.6" y1="248.50" x2="39.0" y2="248.50"/><line x1="36.6" y1="264.00" x2="39.0" y2="264.00"/><line x1="36.6" y1="279.50" x2="39.0" y2="279.50"/><line x1="36.6" y1="295.00" x2="39.0" y2="295.00"/><line x1="36.6" y1="310.50" x2="39.0" y2="310.50"/><line x1="36.6" y1="326.00" x2="39.0" y2="326.00"/><line x1="123.1" y1="248.50" x2="125.5" y2="248.50"/><line x1="123.1" y1="264.00" x2="125.5" y2="264.00"/><line x1="123.1" y1="279.50" x2="125.5" y2="279.50"/><line x1="123.1" y1="295.00" x2="125.5" y2="295.00"/><line x1="123.1" y1="310.50" x2="125.5" y2="310.50"/><line x1="123.1" y1="326.00" x2="125.5" y2="326.00"/><line x1="209.9" y1="248.50" x2="212.3" y2="248.50"/><line x1="209.9" y1="264.00" x2="212.3" y2="264.00"/><line x1="209.9" y1="279.50" x2="212.3" y2="279.50"/><line x1="209.9" y1="295.00" x2="212.3" y2="295.00"/><line x1="209.9" y1="310.50" x2="212.3" y2="310.50"/><line x1="209.9" y1="326.00" x2="212.3" y2="326.00"/><line x1="296.70000000000005" y1="248.50" x2="299.1" y2="248.50"/><line x1="296.70000000000005" y1="264.00" x2="299.1" y2="264.00"/><line x1="296.70000000000005" y1="279.50" x2="299.1" y2="279.50"/><line x1="296.70000000000005" y1="295.00" x2="299.1" y2="295.00"/><line x1="296.70000000000005" y1="310.50" x2="299.1" y2="310.50"/><line x1="296.70000000000005" y1="326.00" x2="299.1" y2="326.00"/><line x1="383.5" y1="248.50" x2="385.9" y2="248.50"/><line x1="383.5" y1="264.00" x2="385.9" y2="264.00"/><line x1="383.5" y1="279.50" x2="385.9" y2="279.50"/><line x1="383.5" y1="295.00" x2="385.9" y2="295.00"/><line x1="383.5" y1="310.50" x2="385.9" y2="310.50"/><line x1="383.5" y1="326.00" x2="385.9" y2="326.00"/><line x1="37.1" y1="334.50" x2="39.5" y2="334.50"/><line x1="37.1" y1="350.14" x2="39.5" y2="350.14"/><line x1="37.1" y1="365.78" x2="39.5" y2="365.78"/><line x1="37.1" y1="381.42" x2="39.5" y2="381.42"/><line x1="37.1" y1="397.06" x2="39.5" y2="397.06"/><line x1="37.1" y1="412.70" x2="39.5" y2="412.70"/><line x1="123.19999999999999" y1="334.50" x2="125.6" y2="334.50"/><line x1="123.19999999999999" y1="350.14" x2="125.6" y2="350.14"/><line x1="123.19999999999999" y1="365.78" x2="125.6" y2="365.78"/><line x1="123.19999999999999" y1="381.42" x2="125.6" y2="381.42"/><line x1="123.19999999999999" y1="397.06" x2="125.6" y2="397.06"/><line x1="123.19999999999999" y1="412.70" x2="125.6" y2="412.70"/><line x1="209.9" y1="334.50" x2="212.3" y2="334.50"/><line x1="209.9" y1="350.14" x2="212.3" y2="350.14"/><line x1="209.9" y1="365.78" x2="212.3" y2="365.78"/><line x1="209.9" y1="381.42" x2="212.3" y2="381.42"/><line x1="209.9" y1="397.06" x2="212.3" y2="397.06"/><line x1="209.9" y1="412.70" x2="212.3" y2="412.70"/><line x1="296.6" y1="334.50" x2="299.0" y2="334.50"/><line x1="296.6" y1="350.14" x2="299.0" y2="350.14"/><line x1="296.6" y1="365.78" x2="299.0" y2="365.78"/><line x1="296.6" y1="381.42" x2="299.0" y2="381.42"/><line x1="296.6" y1="397.06" x2="299.0" y2="397.06"/><line x1="296.6" y1="412.70" x2="299.0" y2="412.70"/><line x1="383.3" y1="334.50" x2="385.7" y2="334.50"/><line x1="383.3" y1="350.14" x2="385.7" y2="350.14"/><line x1="383.3" y1="365.78" x2="385.7" y2="365.78"/><line x1="383.3" y1="381.42" x2="385.7" y2="381.42"/><line x1="383.3" y1="397.06" x2="385.7" y2="397.06"/><line x1="383.3" y1="412.70" x2="385.7" y2="412.70"/><line x1="38.5" y1="421.20" x2="40.9" y2="421.20"/><line x1="38.5" y1="437.02" x2="40.9" y2="437.02"/><line x1="38.5" y1="452.84" x2="40.9" y2="452.84"/><line x1="38.5" y1="468.66" x2="40.9" y2="468.66"/><line x1="38.5" y1="484.48" x2="40.9" y2="484.48"/><line x1="38.5" y1="500.30" x2="40.9" y2="500.30"/><line x1="124.3" y1="421.20" x2="126.7" y2="421.20"/><line x1="124.3" y1="437.02" x2="126.7" y2="437.02"/><line x1="124.3" y1="452.84" x2="126.7" y2="452.84"/><line x1="124.3" y1="468.66" x2="126.7" y2="468.66"/><line x1="124.3" y1="484.48" x2="126.7" y2="484.48"/><line x1="124.3" y1="500.30" x2="126.7" y2="500.30"/><line x1="210.7" y1="421.20" x2="213.1" y2="421.20"/><line x1="210.7" y1="437.02" x2="213.1" y2="437.02"/><line x1="210.7" y1="452.84" x2="213.1" y2="452.84"/><line x1="210.7" y1="468.66" x2="213.1" y2="468.66"/><line x1="210.7" y1="484.48" x2="213.1" y2="484.48"/><line x1="210.7" y1="500.30" x2="213.1" y2="500.30"/><line x1="297.1" y1="421.20" x2="299.5" y2="421.20"/><line x1="297.1" y1="437.02" x2="299.5" y2="437.02"/><line x1="297.1" y1="452.84" x2="299.5" y2="452.84"/><line x1="297.1" y1="468.66" x2="299.5" y2="468.66"/><line x1="297.1" y1="484.48" x2="299.5" y2="484.48"/><line x1="297.1" y1="500.30" x2="299.5" y2="500.30"/><line x1="383.8" y1="421.20" x2="386.2" y2="421.20"/><line x1="383.8" y1="437.02" x2="386.2" y2="437.02"/><line x1="383.8" y1="452.84" x2="386.2" y2="452.84"/><line x1="383.8" y1="468.66" x2="386.2" y2="468.66"/><line x1="383.8" y1="484.48" x2="386.2" y2="484.48"/><line x1="383.8" y1="500.30" x2="386.2" y2="500.30"/></g>
<g stroke="#777" stroke-width="0.8"><line x1="37.5" y1="253.15" x2="39.0" y2="253.15"/><line x1="37.5" y1="256.56" x2="39.0" y2="256.56"/><line x1="37.5" y1="259.35" x2="39.0" y2="259.35"/><line x1="37.5" y1="261.68" x2="39.0" y2="261.68"/><line x1="37.5" y1="268.65" x2="39.0" y2="268.65"/><line x1="37.5" y1="272.06" x2="39.0" y2="272.06"/><line x1="37.5" y1="274.85" x2="39.0" y2="274.85"/><line x1="37.5" y1="277.18" x2="39.0" y2="277.18"/><line x1="37.5" y1="284.15" x2="39.0" y2="284.15"/><line x1="37.5" y1="287.56" x2="39.0" y2="287.56"/><line x1="37.5" y1="290.35" x2="39.0" y2="290.35"/><line x1="37.5" y1="292.68" x2="39.0" y2="292.68"/><line x1="37.5" y1="299.65" x2="39.0" y2="299.65"/><line x1="37.5" y1="303.06" x2="39.0" y2="303.06"/><line x1="37.5" y1="305.85" x2="39.0" y2="305.85"/><line x1="37.5" y1="308.18" x2="39.0" y2="308.18"/><line x1="37.5" y1="315.15" x2="39.0" y2="315.15"/><line x1="37.5" y1="318.56" x2="39.0" y2="318.56"/><line x1="37.5" y1="321.35" x2="39.0" y2="321.35"/><line x1="37.5" y1="323.68" x2="39.0" y2="323.68"/><line x1="124.0" y1="253.15" x2="125.5" y2="253.15"/><line x1="124.0" y1="256.56" x2="125.5" y2="256.56"/><line x1="124.0" y1="259.35" x2="125.5" y2="259.35"/><line x1="124.0" y1="261.68" x2="125.5" y2="261.68"/><line x1="124.0" y1="268.65" x2="125.5" y2="268.65"/><line x1="124.0" y1="272.06" x2="125.5" y2="272.06"/><line x1="124.0" y1="274.85" x2="125.5" y2="274.85"/><line x1="124.0" y1="277.18" x2="125.5" y2="277.18"/><line x1="124.0" y1="284.15" x2="125.5" y2="284.15"/><line x1="124.0" y1="287.56" x2="125.5" y2="287.56"/><line x1="124.0" y1="290.35" x2="125.5" y2="290.35"/><line x1="124.0" y1="292.68" x2="125.5" y2="292.68"/><line x1="124.0" y1="299.65" x2="125.5" y2="299.65"/><line x1="124.0" y1="303.06" x2="125.5" y2="303.06"/><line x1="124.0" y1="305.85" x2="125.5" y2="305.85"/><line x1="124.0" y1="308.18" x2="125.5" y2="308.18"/><line x1="124.0" y1="315.15" x2="125.5" y2="315.15"/><line x1="124.0" y1="318.56" x2="125.5" y2="318.56"/><line x1="124.0" y1="321.35" x2="125.5" y2="321.35"/><line x1="124.0" y1="323.68" x2="125.5" y2="323.68"/><line x1="210.8" y1="253.15" x2="212.3" y2="253.15"/><line x1="210.8" y1="256.56" x2="212.3" y2="256.56"/><line x1="210.8" y1="259.35" x2="212.3" y2="259.35"/><line x1="210.8" y1="261.68" x2="212.3" y2="261.68"/><line x1="210.8" y1="268.65" x2="212.3" y2="268.65"/><line x1="210.8" y1="272.06" x2="212.3" y2="272.06"/><line x1="210.8" y1="274.85" x2="212.3" y2="274.85"/><line x1="210.8" y1="277.18" x2="212.3" y2="277.18"/><line x1="210.8" y1="284.15" x2="212.3" y2="284.15"/><line x1="210.8" y1="287.56" x2="212.3" y2="287.56"/><line x1="210.8" y1="290.35" x2="212.3" y2="290.35"/><line x1="210.8" y1="292.68" x2="212.3" y2="292.68"/><line x1="210.8" y1="299.65" x2="212.3" y2="299.65"/><line x1="210.8" y1="303.06" x2="212.3" y2="303.06"/><line x1="210.8" y1="305.85" x2="212.3" y2="305.85"/><line x1="210.8" y1="308.18" x2="212.3" y2="308.18"/><line x1="210.8" y1="315.15" x2="212.3" y2="315.15"/><line x1="210.8" y1="318.56" x2="212.3" y2="318.56"/><line x1="210.8" y1="321.35" x2="212.3" y2="321.35"/><line x1="210.8" y1="323.68" x2="212.3" y2="323.68"/><line x1="297.6" y1="253.15" x2="299.1" y2="253.15"/><line x1="297.6" y1="256.56" x2="299.1" y2="256.56"/><line x1="297.6" y1="259.35" x2="299.1" y2="259.35"/><line x1="297.6" y1="261.68" x2="299.1" y2="261.68"/><line x1="297.6" y1="268.65" x2="299.1" y2="268.65"/><line x1="297.6" y1="272.06" x2="299.1" y2="272.06"/><line x1="297.6" y1="274.85" x2="299.1" y2="274.85"/><line x1="297.6" y1="277.18" x2="299.1" y2="277.18"/><line x1="297.6" y1="284.15" x2="299.1" y2="284.15"/><line x1="297.6" y1="287.56" x2="299.1" y2="287.56"/><line x1="297.6" y1="290.35" x2="299.1" y2="290.35"/><line x1="297.6" y1="292.68" x2="299.1" y2="292.68"/><line x1="297.6" y1="299.65" x2="299.1" y2="299.65"/><line x1="297.6" y1="303.06" x2="299.1" y2="303.06"/><line x1="297.6" y1="305.85" x2="299.1" y2="305.85"/><line x1="297.6" y1="308.18" x2="299.1" y2="308.18"/><line x1="297.6" y1="315.15" x2="299.1" y2="315.15"/><line x1="297.6" y1="318.56" x2="299.1" y2="318.56"/><line x1="297.6" y1="321.35" x2="299.1" y2="321.35"/><line x1="297.6" y1="323.68" x2="299.1" y2="323.68"/><line x1="384.4" y1="253.15" x2="385.9" y2="253.15"/><line x1="384.4" y1="256.56" x2="385.9" y2="256.56"/><line x1="384.4" y1="259.35" x2="385.9" y2="259.35"/><line x1="384.4" y1="261.68" x2="385.9" y2="261.68"/><line x1="384.4" y1="268.65" x2="385.9" y2="268.65"/><line x1="384.4" y1="272.06" x2="385.9" y2="272.06"/><line x1="384.4" y1="274.85" x2="385.9" y2="274.85"/><line x1="384.4" y1="277.18" x2="385.9" y2="277.18"/><line x1="384.4" y1="284.15" x2="385.9" y2="284.15"/><line x1="384.4" y1="287.56" x2="385.9" y2="287.56"/><line x1="384.4" y1="290.35" x2="385.9" y2="290.35"/><line x1="384.4" y1="292.68" x2="385.9" y2="292.68"/><line x1="384.4" y1="299.65" x2="385.9" y2="299.65"/><line x1="384.4" y1="303.06" x2="385.9" y2="303.06"/><line x1="384.4" y1="305.85" x2="385.9" y2="305.85"/><line x1="384.4" y1="308.18" x2="385.9" y2="308.18"/><line x1="384.4" y1="315.15" x2="385.9" y2="315.15"/><line x1="384.4" y1="318.56" x2="385.9" y2="318.56"/><line x1="384.4" y1="321.35" x2="385.9" y2="321.35"/><line x1="384.4" y1="323.68" x2="385.9" y2="323.68"/><line x1="38.0" y1="339.19" x2="39.5" y2="339.19"/><line x1="38.0" y1="342.63" x2="39.5" y2="342.63"/><line x1="38.0" y1="345.45" x2="39.5" y2="345.45"/><line x1="38.0" y1="347.79" x2="39.5" y2="347.79"/><line x1="38.0" y1="354.83" x2="39.5" y2="354.83"/><line x1="38.0" y1="358.27" x2="39.5" y2="358.27"/><line x1="38.0" y1="361.09" x2="39.5" y2="361.09"/><line x1="38.0" y1="363.43" x2="39.5" y2="363.43"/><line x1="38.0" y1="370.47" x2="39.5" y2="370.47"/><line x1="38.0" y1="373.91" x2="39.5" y2="373.91"/><line x1="38.0" y1="376.73" x2="39.5" y2="376.73"/><line x1="38.0" y1="379.07" x2="39.5" y2="379.07"/><line x1="38.0" y1="386.11" x2="39.5" y2="386.11"/><line x1="38.0" y1="389.55" x2="39.5" y2="389.55"/><line x1="38.0" y1="392.37" x2="39.5" y2="392.37"/><line x1="38.0" y1="394.71" x2="39.5" y2="394.71"/><line x1="38.0" y1="401.75" x2="39.5" y2="401.75"/><line x1="38.0" y1="405.19" x2="39.5" y2="405.19"/><line x1="38.0" y1="408.01" x2="39.5" y2="408.01"/><line x1="38.0" y1="410.35" x2="39.5" y2="410.35"/><line x1="124.1" y1="339.19" x2="125.6" y2="339.19"/><line x1="124.1" y1="342.63" x2="125.6" y2="342.63"/><line x1="124.1" y1="345.45" x2="125.6" y2="345.45"/><line x1="124.1" y1="347.79" x2="125.6" y2="347.79"/><line x1="124.1" y1="354.83" x2="125.6" y2="354.83"/><line x1="124.1" y1="358.27" x2="125.6" y2="358.27"/><line x1="124.1" y1="361.09" x2="125.6" y2="361.09"/><line x1="124.1" y1="363.43" x2="125.6" y2="363.43"/><line x1="124.1" y1="370.47" x2="125.6" y2="370.47"/><line x1="124.1" y1="373.91" x2="125.6" y2="373.91"/><line x1="124.1" y1="376.73" x2="125.6" y2="376.73"/><line x1="124.1" y1="379.07" x2="125.6" y2="379.07"/><line x1="124.1" y1="386.11" x2="125.6" y2="386.11"/><line x1="124.1" y1="389.55" x2="125.6" y2="389.55"/><line x1="124.1" y1="392.37" x2="125.6" y2="392.37"/><line x1="124.1" y1="394.71" x2="125.6" y2="394.71"/><line x1="124.1" y1="401.75" x2="125.6" y2="401.75"/><line x1="124.1" y1="405.19" x2="125.6" y2="405.19"/><line x1="124.1" y1="408.01" x2="125.6" y2="408.01"/><line x1="124.1" y1="410.35" x2="125.6" y2="410.35"/><line x1="210.8" y1="339.19" x2="212.3" y2="339.19"/><line x1="210.8" y1="342.63" x2="212.3" y2="342.63"/><line x1="210.8" y1="345.45" x2="212.3" y2="345.45"/><line x1="210.8" y1="347.79" x2="212.3" y2="347.79"/><line x1="210.8" y1="354.83" x2="212.3" y2="354.83"/><line x1="210.8" y1="358.27" x2="212.3" y2="358.27"/><line x1="210.8" y1="361.09" x2="212.3" y2="361.09"/><line x1="210.8" y1="363.43" x2="212.3" y2="363.43"/><line x1="210.8" y1="370.47" x2="212.3" y2="370.47"/><line x1="210.8" y1="373.91" x2="212.3" y2="373.91"/><line x1="210.8" y1="376.73" x2="212.3" y2="376.73"/><line x1="210.8" y1="379.07" x2="212.3" y2="379.07"/><line x1="210.8" y1="386.11" x2="212.3" y2="386.11"/><line x1="210.8" y1="389.55" x2="212.3" y2="389.55"/><line x1="210.8" y1="392.37" x2="212.3" y2="392.37"/><line x1="210.8" y1="394.71" x2="212.3" y2="394.71"/><line x1="210.8" y1="401.75" x2="212.3" y2="401.75"/><line x1="210.8" y1="405.19" x2="212.3" y2="405.19"/><line x1="210.8" y1="408.01" x2="212.3" y2="408.01"/><line x1="210.8" y1="410.35" x2="212.3" y2="410.35"/><line x1="297.5" y1="339.19" x2="299.0" y2="339.19"/><line x1="297.5" y1="342.63" x2="299.0" y2="342.63"/><line x1="297.5" y1="345.45" x2="299.0" y2="345.45"/><line x1="297.5" y1="347.79" x2="299.0" y2="347.79"/><line x1="297.5" y1="354.83" x2="299.0" y2="354.83"/><line x1="297.5" y1="358.27" x2="299.0" y2="358.27"/><line x1="297.5" y1="361.09" x2="299.0" y2="361.09"/><line x1="297.5" y1="363.43" x2="299.0" y2="363.43"/><line x1="297.5" y1="370.47" x2="299.0" y2="370.47"/><line x1="297.5" y1="373.91" x2="299.0" y2="373.91"/><line x1="297.5" y1="376.73" x2="299.0" y2="376.73"/><line x1="297.5" y1="379.07" x2="299.0" y2="379.07"/><line x1="297.5" y1="386.11" x2="299.0" y2="386.11"/><line x1="297.5" y1="389.55" x2="299.0" y2="389.55"/><line x1="297.5" y1="392.37" x2="299.0" y2="392.37"/><line x1="297.5" y1="394.71" x2="299.0" y2="394.71"/><line x1="297.5" y1="401.75" x2="299.0" y2="401.75"/><line x1="297.5" y1="405.19" x2="299.0" y2="405.19"/><line x1="297.5" y1="408.01" x2="299.0" y2="408.01"/><line x1="297.5" y1="410.35" x2="299.0" y2="410.35"/><line x1="384.2" y1="339.19" x2="385.7" y2="339.19"/><line x1="384.2" y1="342.63" x2="385.7" y2="342.63"/><line x1="384.2" y1="345.45" x2="385.7" y2="345.45"/><line x1="384.2" y1="347.79" x2="385.7" y2="347.79"/><line x1="384.2" y1="354.83" x2="385.7" y2="354.83"/><line x1="384.2" y1="358.27" x2="385.7" y2="358.27"/><line x1="384.2" y1="361.09" x2="385.7" y2="361.09"/><line x1="384.2" y1="363.43" x2="385.7" y2="363.43"/><line x1="384.2" y1="370.47" x2="385.7" y2="370.47"/><line x1="384.2" y1="373.91" x2="385.7" y2="373.91"/><line x1="384.2" y1="376.73" x2="385.7" y2="376.73"/><line x1="384.2" y1="379.07" x2="385.7" y2="379.07"/><line x1="384.2" y1="386.11" x2="385.7" y2="386.11"/><line x1="384.2" y1="389.55" x2="385.7" y2="389.55"/><line x1="384.2" y1="392.37" x2="385.7" y2="392.37"/><line x1="384.2" y1="394.71" x2="385.7" y2="394.71"/><line x1="384.2" y1="401.75" x2="385.7" y2="401.75"/><line x1="384.2" y1="405.19" x2="385.7" y2="405.19"/><line x1="384.2" y1="408.01" x2="385.7" y2="408.01"/><line x1="384.2" y1="410.35" x2="385.7" y2="410.35"/><line x1="39.4" y1="425.95" x2="40.9" y2="425.95"/><line x1="39.4" y1="429.43" x2="40.9" y2="429.43"/><line x1="39.4" y1="432.27" x2="40.9" y2="432.27"/><line x1="39.4" y1="434.65" x2="40.9" y2="434.65"/><line x1="39.4" y1="441.77" x2="40.9" y2="441.77"/><line x1="39.4" y1="445.25" x2="40.9" y2="445.25"/><line x1="39.4" y1="448.09" x2="40.9" y2="448.09"/><line x1="39.4" y1="450.47" x2="40.9" y2="450.47"/><line x1="39.4" y1="457.59" x2="40.9" y2="457.59"/><line x1="39.4" y1="461.07" x2="40.9" y2="461.07"/><line x1="39.4" y1="463.91" x2="40.9" y2="463.91"/><line x1="39.4" y1="466.29" x2="40.9" y2="466.29"/><line x1="39.4" y1="473.41" x2="40.9" y2="473.41"/><line x1="39.4" y1="476.89" x2="40.9" y2="476.89"/><line x1="39.4" y1="479.73" x2="40.9" y2="479.73"/><line x1="39.4" y1="482.11" x2="40.9" y2="482.11"/><line x1="39.4" y1="489.23" x2="40.9" y2="489.23"/><line x1="39.4" y1="492.71" x2="40.9" y2="492.71"/><line x1="39.4" y1="495.55" x2="40.9" y2="495.55"/><line x1="39.4" y1="497.93" x2="40.9" y2="497.93"/><line x1="125.2" y1="425.95" x2="126.7" y2="425.95"/><line x1="125.2" y1="429.43" x2="126.7" y2="429.43"/><line x1="125.2" y1="432.27" x2="126.7" y2="432.27"/><line x1="125.2" y1="434.65" x2="126.7" y2="434.65"/><line x1="125.2" y1="441.77" x2="126.7" y2="441.77"/><line x1="125.2" y1="445.25" x2="126.7" y2="445.25"/><line x1="125.2" y1="448.09" x2="126.7" y2="448.09"/><line x1="125.2" y1="450.47" x2="126.7" y2="450.47"/><line x1="125.2" y1="457.59" x2="126.7" y2="457.59"/><line x1="125.2" y1="461.07" x2="126.7" y2="461.07"/><line x1="125.2" y1="463.91" x2="126.7" y2="463.91"/><line x1="125.2" y1="466.29" x2="126.7" y2="466.29"/><line x1="125.2" y1="473.41" x2="126.7" y2="473.41"/><line x1="125.2" y1="476.89" x2="126.7" y2="476.89"/><line x1="125.2" y1="479.73" x2="126.7" y2="479.73"/><line x1="125.2" y1="482.11" x2="126.7" y2="482.11"/><line x1="125.2" y1="489.23" x2="126.7" y2="489.23"/><line x1="125.2" y1="492.71" x2="126.7" y2="492.71"/><line x1="125.2" y1="495.55" x2="126.7" y2="495.55"/><line x1="125.2" y1="497.93" x2="126.7" y2="497.93"/><line x1="211.6" y1="425.95" x2="213.1" y2="425.95"/><line x1="211.6" y1="429.43" x2="213.1" y2="429.43"/><line x1="211.6" y1="432.27" x2="213.1" y2="432.27"/><line x1="211.6" y1="434.65" x2="213.1" y2="434.65"/><line x1="211.6" y1="441.77" x2="213.1" y2="441.77"/><line x1="211.6" y1="445.25" x2="213.1" y2="445.25"/><line x1="211.6" y1="448.09" x2="213.1" y2="448.09"/><line x1="211.6" y1="450.47" x2="213.1" y2="450.47"/><line x1="211.6" y1="457.59" x2="213.1" y2="457.59"/><line x1="211.6" y1="461.07" x2="213.1" y2="461.07"/><line x1="211.6" y1="463.91" x2="213.1" y2="463.91"/><line x1="211.6" y1="466.29" x2="213.1" y2="466.29"/><line x1="211.6" y1="473.41" x2="213.1" y2="473.41"/><line x1="211.6" y1="476.89" x2="213.1" y2="476.89"/><line x1="211.6" y1="479.73" x2="213.1" y2="479.73"/><line x1="211.6" y1="482.11" x2="213.1" y2="482.11"/><line x1="211.6" y1="489.23" x2="213.1" y2="489.23"/><line x1="211.6" y1="492.71" x2="213.1" y2="492.71"/><line x1="211.6" y1="495.55" x2="213.1" y2="495.55"/><line x1="211.6" y1="497.93" x2="213.1" y2="497.93"/><line x1="298.0" y1="425.95" x2="299.5" y2="425.95"/><line x1="298.0" y1="429.43" x2="299.5" y2="429.43"/><line x1="298.0" y1="432.27" x2="299.5" y2="432.27"/><line x1="298.0" y1="434.65" x2="299.5" y2="434.65"/><line x1="298.0" y1="441.77" x2="299.5" y2="441.77"/><line x1="298.0" y1="445.25" x2="299.5" y2="445.25"/><line x1="298.0" y1="448.09" x2="299.5" y2="448.09"/><line x1="298.0" y1="450.47" x2="299.5" y2="450.47"/><line x1="298.0" y1="457.59" x2="299.5" y2="457.59"/><line x1="298.0" y1="461.07" x2="299.5" y2="461.07"/><line x1="298.0" y1="463.91" x2="299.5" y2="463.91"/><line x1="298.0" y1="466.29" x2="299.5" y2="466.29"/><line x1="298.0" y1="473.41" x2="299.5" y2="473.41"/><line x1="298.0" y1="476.89" x2="299.5" y2="476.89"/><line x1="298.0" y1="479.73" x2="299.5" y2="479.73"/><line x1="298.0" y1="482.11" x2="299.5" y2="482.11"/><line x1="298.0" y1="489.23" x2="299.5" y2="489.23"/><line x1="298.0" y1="492.71" x2="299.5" y2="492.71"/><line x1="298.0" y1="495.55" x2="299.5" y2="495.55"/><line x1="298.0" y1="497.93" x2="299.5" y2="497.93"/><line x1="384.7" y1="425.95" x2="386.2" y2="425.95"/><line x1="384.7" y1="429.43" x2="386.2" y2="429.43"/><line x1="384.7" y1="432.27" x2="386.2" y2="432.27"/><line x1="384.7" y1="434.65" x2="386.2" y2="434.65"/><line x1="384.7" y1="441.77" x2="386.2" y2="441.77"/><line x1="384.7" y1="445.25" x2="386.2" y2="445.25"/><line x1="384.7" y1="448.09" x2="386.2" y2="448.09"/><line x1="384.7" y1="450.47" x2="386.2" y2="450.47"/><line x1="384.7" y1="457.59" x2="386.2" y2="457.59"/><line x1="384.7" y1="461.07" x2="386.2" y2="461.07"/><line x1="384.7" y1="463.91" x2="386.2" y2="463.91"/><line x1="384.7" y1="466.29" x2="386.2" y2="466.29"/><line x1="384.7" y1="473.41" x2="386.2" y2="473.41"/><line x1="384.7" y1="476.89" x2="386.2" y2="476.89"/><line x1="384.7" y1="479.73" x2="386.2" y2="479.73"/><line x1="384.7" y1="482.11" x2="386.2" y2="482.11"/><line x1="384.7" y1="489.23" x2="386.2" y2="489.23"/><line x1="384.7" y1="492.71" x2="386.2" y2="492.71"/><line x1="384.7" y1="495.55" x2="386.2" y2="495.55"/><line x1="384.7" y1="497.93" x2="386.2" y2="497.93"/></g>
<g fill="#1a1a1a" stroke="#1a1a1a" stroke-width="0.18"><text x="29.8" y="252.40" font-size="7.6" text-anchor="end">10</text><text x="30.20" y="247.90" font-size="5.1">5</text><text x="29.8" y="267.90" font-size="7.6" text-anchor="end">10</text><text x="30.20" y="263.40" font-size="5.1">4</text><text x="29.8" y="283.40" font-size="7.6" text-anchor="end">10</text><text x="30.20" y="278.90" font-size="5.1">3</text><text x="29.8" y="298.90" font-size="7.6" text-anchor="end">10</text><text x="30.20" y="294.40" font-size="5.1">2</text><text x="29.8" y="314.40" font-size="7.6" text-anchor="end">10</text><text x="30.20" y="309.90" font-size="5.1">1</text><text x="29.8" y="326.90" font-size="7.6" text-anchor="end">10</text><text x="30.20" y="322.40" font-size="5.1">0</text><text x="30.1" y="338.40" font-size="7.6" text-anchor="end">10</text><text x="30.50" y="333.90" font-size="5.1">5</text><text x="30.1" y="354.04" font-size="7.6" text-anchor="end">10</text><text x="30.50" y="349.54" font-size="5.1">4</text><text x="30.1" y="369.68" font-size="7.6" text-anchor="end">10</text><text x="30.50" y="365.18" font-size="5.1">3</text><text x="30.1" y="385.32" font-size="7.6" text-anchor="end">10</text><text x="30.50" y="380.82" font-size="5.1">2</text><text x="30.1" y="400.96" font-size="7.6" text-anchor="end">10</text><text x="30.50" y="396.46" font-size="5.1">1</text><text x="30.1" y="413.60" font-size="7.6" text-anchor="end">10</text><text x="30.50" y="409.10" font-size="5.1">0</text><text x="31.0" y="425.10" font-size="7.6" text-anchor="end">10</text><text x="31.40" y="420.60" font-size="5.1">5</text><text x="31.0" y="440.92" font-size="7.6" text-anchor="end">10</text><text x="31.40" y="436.42" font-size="5.1">4</text><text x="31.0" y="456.74" font-size="7.6" text-anchor="end">10</text><text x="31.40" y="452.24" font-size="5.1">3</text><text x="31.0" y="472.56" font-size="7.6" text-anchor="end">10</text><text x="31.40" y="468.06" font-size="5.1">2</text><text x="31.0" y="488.38" font-size="7.6" text-anchor="end">10</text><text x="31.40" y="483.88" font-size="5.1">1</text><text x="31.0" y="501.20" font-size="7.6" text-anchor="end">10</text><text x="31.40" y="496.70" font-size="5.1">0</text></g>
<g fill="#1c1c1c" stroke="#1c1c1c" stroke-width="0.2"><text transform="translate(38.80,515.5) scale(0.92,1)" font-size="7.8">-10</text><text transform="translate(49.70,511.20) scale(0.9,1)" font-size="5.8">3</text><text transform="translate(63.50,515.5) scale(0.92,1)" font-size="7.8">0</text><text transform="translate(83.30,515.5) scale(0.92,1)" font-size="7.8">10</text><text transform="translate(91.80,511.20) scale(0.9,1)" font-size="5.8">3</text><text transform="translate(99.60,515.5) scale(0.92,1)" font-size="7.8">10</text><text transform="translate(108.10,511.20) scale(0.9,1)" font-size="5.8">4</text><text transform="translate(114.50,515.5) scale(0.92,1)" font-size="7.8">10</text><text transform="translate(123.00,511.20) scale(0.9,1)" font-size="5.8">5</text><text transform="translate(136.80,515.5) scale(0.92,1)" font-size="7.8">-10</text><text transform="translate(147.70,511.20) scale(0.9,1)" font-size="5.8">3</text><text transform="translate(155.10,515.5) scale(0.92,1)" font-size="7.8">0</text><text transform="translate(166.60,515.5) scale(0.92,1)" font-size="7.8">10</text><text transform="translate(175.10,511.20) scale(0.9,1)" font-size="5.8">3</text><text transform="translate(185.60,515.5) scale(0.92,1)" font-size="7.8">10</text><text transform="translate(194.10,511.20) scale(0.9,1)" font-size="5.8">4</text><text transform="translate(200.30,515.5) scale(0.92,1)" font-size="7.8">10</text><text transform="translate(208.80,511.20) scale(0.9,1)" font-size="5.8">5</text><text transform="translate(226.40,515.5) scale(0.92,1)" font-size="7.8">0</text><text transform="translate(244.80,515.5) scale(0.92,1)" font-size="7.8">10</text><text transform="translate(253.30,511.20) scale(0.9,1)" font-size="5.8">3</text><text transform="translate(266.40,515.5) scale(0.92,1)" font-size="7.8">10</text><text transform="translate(274.90,511.20) scale(0.9,1)" font-size="5.8">4</text><text transform="translate(282.90,515.5) scale(0.92,1)" font-size="7.8">10</text><text transform="translate(291.40,511.20) scale(0.9,1)" font-size="5.8">5</text><text transform="translate(298.50,515.5) scale(0.92,1)" font-size="7.8">-10</text><text transform="translate(309.40,511.20) scale(0.9,1)" font-size="5.8">3</text><text transform="translate(317.30,515.5) scale(0.92,1)" font-size="7.8">0</text><text transform="translate(328.80,515.5) scale(0.92,1)" font-size="7.8">10</text><text transform="translate(337.30,511.20) scale(0.9,1)" font-size="5.8">3</text><text transform="translate(352.20,515.5) scale(0.92,1)" font-size="7.8">10</text><text transform="translate(360.70,511.20) scale(0.9,1)" font-size="5.8">4</text><text transform="translate(372.90,515.5) scale(0.92,1)" font-size="7.8">10</text><text transform="translate(381.40,511.20) scale(0.9,1)" font-size="5.8">5</text><text transform="translate(387.70,515.5) scale(0.92,1)" font-size="7.8">-10</text><text transform="translate(398.60,511.20) scale(0.9,1)" font-size="5.8">3</text><text transform="translate(411.80,515.5) scale(0.92,1)" font-size="7.8">0</text><text transform="translate(427.90,515.5) scale(0.92,1)" font-size="7.8">10</text><text transform="translate(436.40,511.20) scale(0.9,1)" font-size="5.8">3</text><text transform="translate(444.90,515.5) scale(0.92,1)" font-size="7.8">10</text><text transform="translate(453.40,511.20) scale(0.9,1)" font-size="5.8">4</text><text transform="translate(459.40,515.5) scale(0.92,1)" font-size="7.8">10</text><text transform="translate(467.90,511.20) scale(0.9,1)" font-size="5.8">5</text></g>
<text transform="translate(82.75,529.1) scale(0.68,1)" font-size="9.4" fill="#111" stroke="#111" stroke-width="0.45" text-anchor="middle">CX3CR1</text>
<text transform="translate(173.0,529.1) scale(0.68,1)" font-size="9.4" fill="#111" stroke="#111" stroke-width="0.45" text-anchor="middle">Flt3</text>
<text transform="translate(256.0,529.1) scale(0.68,1)" font-size="9.4" fill="#111" stroke="#111" stroke-width="0.45" text-anchor="middle">c-Kit</text>
<text transform="translate(342.0,529.1) scale(0.68,1)" font-size="9.4" fill="#111" stroke="#111" stroke-width="0.45" text-anchor="middle">CD16/32</text>
<text transform="translate(434.5,529.1) scale(0.68,1)" font-size="9.4" fill="#111" stroke="#111" stroke-width="0.45" text-anchor="middle">Ly6C</text>
<text transform="translate(14.5,466.1) rotate(-90) scale(0.68,1)" font-size="9.4" fill="#111" stroke="#111" stroke-width="0.45" text-anchor="middle">CD27</text>
<line x1="12.9" y1="296" x2="12.9" y2="415.6" stroke="#333" stroke-width="1.6"/>
<path d="M12.9,291.2 L15.7,297 L10.1,297 Z" fill="#111"/>
<g fill="#151515" stroke="#151515" stroke-width="0.22">
<text x="43.7" y="319.6" font-size="7.9">MODP vs CDP</text>
<text x="43.5" y="407.3" font-size="8">MOP vs MDP</text>
<text x="45.4" y="495.3" font-size="8">all populations</text>
</g>
<rect x="479.2" y="342.00" width="6.6" height="3.4" fill="#4b2066"/>
<text x="488.8" y="346.70" font-size="8.2" fill="#1a1a1a" stroke="#1a1a1a" stroke-width="0.15">MODP</text>
<rect x="479.2" y="359.90" width="6.6" height="3.4" fill="#c9c9cd"/>
<text x="488.8" y="364.60" font-size="8.2" fill="#1a1a1a" stroke="#1a1a1a" stroke-width="0.15">MOP</text>
<rect x="479.2" y="374.60" width="6.6" height="3.4" fill="#7aaee0"/>
<text x="488.8" y="379.30" font-size="8.2" fill="#1a1a1a" stroke="#1a1a1a" stroke-width="0.15">CDP</text>
<rect x="479.2" y="391.60" width="6.6" height="3.4" fill="#e8921e"/>
<text x="488.8" y="396.30" font-size="8.2" fill="#1a1a1a" stroke="#1a1a1a" stroke-width="0.15">MDP</text>
<ellipse cx="82" cy="277" rx="11.5" ry="7.6" fill="#d9f0ee" fill-opacity="0.85" transform="rotate(-6 82 277)" filter="url(#b1)"/>
<ellipse cx="83.5" cy="277.5" rx="7.5" ry="4.8" fill="none" stroke="#9fd8d2" stroke-opacity="0.55" stroke-width="0.8" transform="rotate(-8 83.5 277.5)" filter="url(#b05)"/>
<ellipse cx="82" cy="277" rx="10.2" ry="6.6" fill="none" stroke="#9fd8d2" stroke-opacity="0.35" stroke-width="0.7" transform="rotate(-6 82 277)" filter="url(#b05)"/>
<path d="M49,263.2 C58,262.8 70,263.6 84.5,264" fill="none" stroke="#d0c9ea" stroke-opacity="0.95" stroke-width="15.0" stroke-linecap="round" stroke-linejoin="round" filter="url(#b1)"/>
<ellipse cx="84.5" cy="264" rx="7.6" ry="8.3" fill="#d0c9ea" fill-opacity="0.95" transform="rotate(0 84.5 264)" filter="url(#b1)"/>
<path d="M49,263.2 C58,262.8 70,263.6 84.5,264" fill="none" stroke="#ada2da" stroke-opacity="0.75" stroke-width="11.5" stroke-linecap="round" stroke-linejoin="round" filter="url(#b1)"/>
<ellipse cx="84.3" cy="264" rx="6.2" ry="7.0" fill="#9d90d2" fill-opacity="0.8" transform="rotate(0 84.3 264)" filter="url(#b1)"/>
<path d="M63,263.5 C70,263.8 77,264 84,264" fill="none" stroke="#7462b2" stroke-opacity="0.5" stroke-width="12.5" stroke-linecap="round" stroke-linejoin="round" filter="url(#b1)"/>
<ellipse cx="84.3" cy="264" rx="6.2" ry="7.0" fill="#7462b2" fill-opacity="0.45" transform="rotate(0 84.3 264)" filter="url(#b1)"/>
<path d="M50,263.3 C58,263.0 70,263.9 82,264.1" fill="none" stroke="#c2b8e2" stroke-opacity="0.8" stroke-width="6.0" stroke-linecap="round" stroke-linejoin="round" filter="url(#b1)"/>
<ellipse cx="83" cy="264.3" rx="3.2" ry="3.4" fill="#cfc6ea" fill-opacity="0.9" transform="rotate(0 83 264.3)" filter="url(#b05)"/>
<path d="M52,263.4 C57,263.4 64,263.9 70,264.2" fill="none" stroke="#e4e0f6" stroke-opacity="0.6" stroke-width="1.4" stroke-linecap="round" stroke-linejoin="round" filter="url(#b05)"/>
<ellipse cx="166.5" cy="277.6" rx="8" ry="7.8" fill="#d9f0ee" fill-opacity="0.85" transform="rotate(0 166.5 277.6)" filter="url(#b1)"/>
<ellipse cx="166.5" cy="278.2" rx="5.8" ry="5.2" fill="none" stroke="#9fd8d2" stroke-opacity="0.45" stroke-width="0.7" transform="rotate(0 166.5 278.2)" filter="url(#b05)"/>
<ellipse cx="157.5" cy="264.2" rx="8" ry="7.2" fill="#e0d5ec" fill-opacity="0.95" transform="rotate(0 157.5 264.2)" filter="url(#b1)"/>
<ellipse cx="171.3" cy="263.7" rx="11.7" ry="8.2" fill="#a898d4" fill-opacity="0.95" transform="rotate(-6 171.3 263.7)" filter="url(#b1)"/>
<ellipse cx="171.3" cy="263.7" rx="10.2" ry="7.0" fill="#7462b2" fill-opacity="0.7" transform="rotate(-6 171.3 263.7)" filter="url(#b1)"/>
<ellipse cx="171.0" cy="264.2" rx="6.0" ry="4.2" fill="#a290d0" fill-opacity="0.9" transform="rotate(-10 171.0 264.2)" filter="url(#b1)"/>
<ellipse cx="170" cy="265" rx="1.8" ry="0.8" fill="#eeeaff" fill-opacity="0.8" transform="rotate(-25 170 265)" filter="url(#b05)"/>
<ellipse cx="262.3" cy="276.4" rx="15.2" ry="7.6" fill="#d9f0ee" fill-opacity="0.85" transform="rotate(0 262.3 276.4)" filter="url(#b1)"/>
<ellipse cx="262.5" cy="277.0" rx="12.5" ry="5.5" fill="none" stroke="#9fd8d2" stroke-opacity="0.45" stroke-width="0.7" transform="rotate(0 262.5 277.0)" filter="url(#b05)"/>
<ellipse cx="263" cy="264.1" rx="16.4" ry="8.3" fill="#ccc6e0" fill-opacity="0.95" transform="rotate(0 263 264.1)" filter="url(#b1)"/>
<ellipse cx="259.5" cy="264.4" rx="12.8" ry="7.8" fill="#9888cc" fill-opacity="0.8" transform="rotate(0 259.5 264.4)" filter="url(#b1)"/>
<ellipse cx="258.5" cy="264.4" rx="10" ry="6.2" fill="#7462b2" fill-opacity="0.55" transform="rotate(0 258.5 264.4)" filter="url(#b1)"/>
<ellipse cx="258.5" cy="264.8" rx="5.5" ry="3.6" fill="#a898d4" fill-opacity="0.9" transform="rotate(0 258.5 264.8)" filter="url(#b1)"/>
<ellipse cx="257.3" cy="265.7" rx="2.0" ry="0.8" fill="#eeeaff" fill-opacity="0.8" transform="rotate(-10 257.3 265.7)" filter="url(#b05)"/>
<ellipse cx="323.4" cy="276.4" rx="12.8" ry="7.6" fill="#d9f0ee" fill-opacity="0.85" transform="rotate(0 323.4 276.4)" filter="url(#b1)"/>
<ellipse cx="323.5" cy="277.2" rx="10.5" ry="5.4" fill="none" stroke="#9fd8d2" stroke-opacity="0.45" stroke-width="0.7" transform="rotate(0 323.5 277.2)" filter="url(#b05)"/>
<ellipse cx="329" cy="263.5" rx="9.5" ry="7.5" fill="none" stroke="#c8c8cc" stroke-opacity="0.8" stroke-width="0.9" transform="rotate(0 329 263.5)" filter="url(#b05)"/>
<ellipse cx="322.5" cy="263.8" rx="13.8" ry="8.8" fill="#beb2de" fill-opacity="0.95" transform="rotate(0 322.5 263.8)" filter="url(#b1)"/>
<ellipse cx="320.5" cy="264" rx="10.8" ry="7.8" fill="#8f7ec8" fill-opacity="0.85" transform="rotate(0 320.5 264)" filter="url(#b1)"/>
<ellipse cx="320.5" cy="264" rx="8.5" ry="6.2" fill="#7462b2" fill-opacity="0.5" transform="rotate(0 320.5 264)" filter="url(#b1)"/>
<ellipse cx="321.5" cy="265" rx="4.5" ry="3.6" fill="#a898d4" fill-opacity="0.9" transform="rotate(0 321.5 265)" filter="url(#b1)"/>
<ellipse cx="322" cy="265" rx="1.4" ry="1.0" fill="#eeeaff" fill-opacity="0.8" transform="rotate(0 322 265)" filter="url(#b05)"/>
<ellipse cx="420.2" cy="274.6" rx="12" ry="8.4" fill="#d9f0ee" fill-opacity="0.85" transform="rotate(0 420.2 274.6)" filter="url(#b1)"/>
<ellipse cx="420.5" cy="275.5" rx="9.5" ry="6.2" fill="none" stroke="#9fd8d2" stroke-opacity="0.45" stroke-width="0.7" transform="rotate(0 420.5 275.5)" filter="url(#b05)"/>
<ellipse cx="425.5" cy="264.3" rx="8.8" ry="7.2" fill="#d2cae6" fill-opacity="0.95" transform="rotate(0 425.5 264.3)" filter="url(#b1)"/>
<ellipse cx="426" cy="264.3" rx="6.5" ry="5.5" fill="none" stroke="#b0a6d0" stroke-opacity="0.5" stroke-width="0.9" transform="rotate(0 426 264.3)" filter="url(#b05)"/>
<ellipse cx="415.4" cy="263.6" rx="8.2" ry="8.6" fill="#8c7ac6" fill-opacity="0.95" transform="rotate(0 415.4 263.6)" filter="url(#b1)"/>
<ellipse cx="415.4" cy="263.8" rx="6.8" ry="7.2" fill="#7462b2" fill-opacity="0.6" transform="rotate(0 415.4 263.8)" filter="url(#b1)"/>
<ellipse cx="415.8" cy="264.4" rx="3.8" ry="4.0" fill="#a290d0" fill-opacity="0.9" transform="rotate(0 415.8 264.4)" filter="url(#b1)"/>
<ellipse cx="416" cy="264.6" rx="1.2" ry="1.1" fill="#eeeaff" fill-opacity="0.85" transform="rotate(0 416 264.6)" filter="url(#b05)"/>
<path d="M56.00,354.00C57.25,351.33 60.50,351.17 63.00,351.00C65.50,350.83 68.67,351.50 71.00,353.00C73.33,354.50 75.50,356.83 77.00,360.00C78.50,363.17 79.67,368.00 80.00,372.00C80.33,376.00 80.17,380.83 79.00,384.00C77.83,387.17 75.33,390.00 73.00,391.00C70.67,392.00 67.33,391.67 65.00,390.00C62.67,388.33 60.58,384.83 59.00,381.00C57.42,377.17 56.00,371.50 55.50,367.00C55.00,362.50 54.75,356.67 56.00,354.00Z" fill="#f4f4f4" fill-opacity="0.9" filter="url(#b1)"/>
<path d="M69.50,352.00C70.17,347.58 71.75,346.83 74.00,345.50C76.25,344.17 80.17,343.67 83.00,344.00C85.83,344.33 89.08,345.50 91.00,347.50C92.92,349.50 93.92,352.58 94.50,356.00C95.08,359.42 95.08,364.33 94.50,368.00C93.92,371.67 92.92,375.58 91.00,378.00C89.08,380.42 85.67,382.00 83.00,382.50C80.33,383.00 77.17,382.75 75.00,381.00C72.83,379.25 70.92,376.83 70.00,372.00C69.08,367.17 68.83,356.42 69.50,352.00Z" fill="#eee7dc" fill-opacity="0.95" filter="url(#b1)"/>
<path d="M69.88,352.24C70.52,347.96 72.06,347.23 74.24,345.94C76.42,344.64 80.22,344.16 82.97,344.48C85.72,344.80 88.87,345.94 90.73,347.88C92.59,349.81 93.56,352.81 94.12,356.12C94.69,359.43 94.69,364.20 94.12,367.76C93.56,371.32 92.59,375.12 90.73,377.46C88.87,379.80 85.56,381.34 82.97,381.82C80.38,382.31 77.31,382.07 75.21,380.37C73.11,378.67 71.25,376.33 70.36,371.64C69.47,366.95 69.23,356.52 69.88,352.24Z" fill="none" stroke="#d3c1a5" stroke-opacity="0.7" stroke-width="2.2" filter="url(#b1)"/>
<path d="M70.5,356 C72,348 78,345 86,345" fill="none" stroke="#c4a67e" stroke-opacity="0.6" stroke-width="2.4" stroke-linecap="round" stroke-linejoin="round" filter="url(#b1)"/>
<g fill="none" stroke="#cbcbcb" stroke-opacity="0.85" stroke-width="0.55" filter="url(#b05)"><path d="M56.00,354.00C57.25,351.33 60.50,351.17 63.00,351.00C65.50,350.83 68.67,351.50 71.00,353.00C73.33,354.50 75.50,356.83 77.00,360.00C78.50,363.17 79.67,368.00 80.00,372.00C80.33,376.00 80.17,380.83 79.00,384.00C77.83,387.17 75.33,390.00 73.00,391.00C70.67,392.00 67.33,391.67 65.00,390.00C62.67,388.33 60.58,384.83 59.00,381.00C57.42,377.17 56.00,371.50 55.50,367.00C55.00,362.50 54.75,356.67 56.00,354.00Z"/><path d="M57.68,356.52C58.76,354.23 61.55,354.08 63.70,353.94C65.85,353.80 68.57,354.37 70.58,355.66C72.59,356.95 74.45,358.96 75.74,361.68C77.03,364.40 78.03,368.56 78.32,372.00C78.61,375.44 78.46,379.60 77.46,382.32C76.46,385.04 74.31,387.48 72.30,388.34C70.29,389.20 67.43,388.91 65.42,387.48C63.41,386.05 61.62,383.04 60.26,379.74C58.90,376.44 57.68,371.57 57.25,367.70C56.82,363.83 56.60,358.81 57.68,356.52Z"/><path d="M59.36,359.04C60.26,357.12 62.60,357.00 64.40,356.88C66.20,356.76 68.48,357.24 70.16,358.32C71.84,359.40 73.40,361.08 74.48,363.36C75.56,365.64 76.40,369.12 76.64,372.00C76.88,374.88 76.76,378.36 75.92,380.64C75.08,382.92 73.28,384.96 71.60,385.68C69.92,386.40 67.52,386.16 65.84,384.96C64.16,383.76 62.66,381.24 61.52,378.48C60.38,375.72 59.36,371.64 59.00,368.40C58.64,365.16 58.46,360.96 59.36,359.04Z"/><path d="M61.04,361.56C61.77,360.01 63.65,359.92 65.10,359.82C66.55,359.72 68.39,360.11 69.74,360.98C71.09,361.85 72.35,363.20 73.22,365.04C74.09,366.88 74.77,369.68 74.96,372.00C75.15,374.32 75.06,377.12 74.38,378.96C73.70,380.80 72.25,382.44 70.90,383.02C69.55,383.60 67.61,383.41 66.26,382.44C64.91,381.47 63.70,379.44 62.78,377.22C61.86,375.00 61.04,371.71 60.75,369.10C60.46,366.49 60.31,363.11 61.04,361.56Z"/><path d="M62.72,364.08C63.27,362.91 64.70,362.83 65.80,362.76C66.90,362.69 68.29,362.98 69.32,363.64C70.35,364.30 71.30,365.33 71.96,366.72C72.62,368.11 73.13,370.24 73.28,372.00C73.43,373.76 73.35,375.89 72.84,377.28C72.33,378.67 71.23,379.92 70.20,380.36C69.17,380.80 67.71,380.65 66.68,379.92C65.65,379.19 64.74,377.65 64.04,375.96C63.34,374.27 62.72,371.78 62.50,369.80C62.28,367.82 62.17,365.25 62.72,364.08Z"/><path d="M64.40,366.60C64.78,365.80 65.75,365.75 66.50,365.70C67.25,365.65 68.20,365.85 68.90,366.30C69.60,366.75 70.25,367.45 70.70,368.40C71.15,369.35 71.50,370.80 71.60,372.00C71.70,373.20 71.65,374.65 71.30,375.60C70.95,376.55 70.20,377.40 69.50,377.70C68.80,378.00 67.80,377.90 67.10,377.40C66.40,376.90 65.77,375.85 65.30,374.70C64.83,373.55 64.40,371.85 64.25,370.50C64.10,369.15 64.03,367.40 64.40,366.60Z"/></g>
<path d="M72.25,355.08C72.77,351.63 74.01,351.05 75.76,350.01C77.52,348.97 80.57,348.58 82.78,348.84C84.99,349.10 87.52,350.01 89.02,351.57C90.52,353.13 91.30,355.53 91.75,358.20C92.20,360.87 92.20,364.70 91.75,367.56C91.30,370.42 90.52,373.48 89.02,375.36C87.52,377.25 84.86,378.48 82.78,378.87C80.70,379.26 78.23,379.06 76.54,377.70C74.85,376.33 73.36,374.45 72.64,370.68C71.92,366.91 71.73,358.52 72.25,355.08Z" fill="none" stroke="#c6b59b" stroke-opacity="0.75" stroke-width="1.6" filter="url(#b1)"/>
<path d="M74.50,357.60C74.90,354.95 75.85,354.50 77.20,353.70C78.55,352.90 80.90,352.60 82.60,352.80C84.30,353.00 86.25,353.70 87.40,354.90C88.55,356.10 89.15,357.95 89.50,360.00C89.85,362.05 89.85,365.00 89.50,367.20C89.15,369.40 88.55,371.75 87.40,373.20C86.25,374.65 84.20,375.60 82.60,375.90C81.00,376.20 79.10,376.05 77.80,375.00C76.50,373.95 75.35,372.50 74.80,369.60C74.25,366.70 74.10,360.25 74.50,357.60Z" fill="none" stroke="#c6b59b" stroke-opacity="0.75" stroke-width="1.6" filter="url(#b1)"/>
<path d="M76.17,355.48C76.45,353.62 77.12,353.31 78.06,352.75C79.00,352.19 80.65,351.98 81.84,352.12C83.03,352.26 84.40,352.75 85.20,353.59C86.00,354.43 86.42,355.73 86.67,357.16C86.92,358.60 86.92,360.66 86.67,362.20C86.42,363.74 86.00,365.38 85.20,366.40C84.40,367.41 82.96,368.08 81.84,368.29C80.72,368.50 79.39,368.40 78.48,367.66C77.57,366.93 76.77,365.91 76.38,363.88C75.99,361.85 75.89,357.34 76.17,355.48Z" fill="#ead8c6" fill-opacity="0.8" filter="url(#b1)"/>
<path d="M79.5,355.5 L85,362" fill="none" stroke="#fbf7f0" stroke-opacity="0.85" stroke-width="1.6" stroke-linecap="round" stroke-linejoin="round" filter="url(#b05)"/>
<path d="M145.00,355.00C145.83,352.67 147.50,349.75 150.00,348.00C152.50,346.25 156.50,345.08 160.00,344.50C163.50,343.92 168.08,343.92 171.00,344.50C173.92,345.08 176.50,345.92 177.50,348.00C178.50,350.08 177.92,354.00 177.00,357.00C176.08,360.00 174.00,362.83 172.00,366.00C170.00,369.17 167.33,372.75 165.00,376.00C162.67,379.25 160.00,384.50 158.00,385.50C156.00,386.50 154.50,384.25 153.00,382.00C151.50,379.75 150.33,375.33 149.00,372.00C147.67,368.67 145.67,364.83 145.00,362.00C144.33,359.17 144.17,357.33 145.00,355.00Z" fill="#eee7dc" fill-opacity="0.95" filter="url(#b1)"/>
<path d="M145.51,355.15C146.32,352.89 147.94,350.06 150.36,348.36C152.79,346.66 156.67,345.53 160.06,344.96C163.45,344.40 167.90,344.40 170.73,344.96C173.56,345.53 176.06,346.34 177.03,348.36C178.00,350.38 177.44,354.18 176.55,357.09C175.66,360.00 173.64,362.75 171.70,365.82C169.76,368.89 167.17,372.37 164.91,375.52C162.65,378.67 160.06,383.76 158.12,384.74C156.18,385.71 154.73,383.52 153.27,381.34C151.81,379.16 150.68,374.87 149.39,371.64C148.10,368.41 146.16,364.69 145.51,361.94C144.86,359.19 144.70,357.41 145.51,355.15Z" fill="none" stroke="#d3c1a5" stroke-opacity="0.65" stroke-width="2.0" filter="url(#b1)"/>
<path d="M155,347.5 C162,345 170,345.5 175,348.5" fill="none" stroke="#c4a67e" stroke-opacity="0.65" stroke-width="2.6" stroke-linecap="round" stroke-linejoin="round" filter="url(#b1)"/>
<g fill="none" stroke="#cbcbcb" stroke-opacity="0.85" stroke-width="0.55" filter="url(#b05)"><path d="M147.00,350.00C148.67,348.17 151.50,346.83 154.00,347.00C156.50,347.17 160.17,348.50 162.00,351.00C163.83,353.50 164.67,357.83 165.00,362.00C165.33,366.17 164.50,371.50 164.00,376.00C163.50,380.50 162.83,385.25 162.00,389.00C161.17,392.75 160.17,397.33 159.00,398.50C157.83,399.67 156.00,398.42 155.00,396.00C154.00,393.58 154.17,388.33 153.00,384.00C151.83,379.67 149.50,374.33 148.00,370.00C146.50,365.67 144.17,361.33 144.00,358.00C143.83,354.67 145.33,351.83 147.00,350.00Z"/><path d="M148.17,352.86C149.62,351.26 152.08,350.11 154.26,350.25C156.44,350.39 159.62,351.56 161.22,353.73C162.81,355.91 163.54,359.68 163.83,363.30C164.12,366.93 163.40,371.56 162.96,375.48C162.53,379.40 161.94,383.53 161.22,386.79C160.50,390.05 159.62,394.04 158.61,395.06C157.60,396.07 156.00,394.98 155.13,392.88C154.26,390.78 154.40,386.21 153.39,382.44C152.38,378.67 150.34,374.03 149.04,370.26C147.73,366.49 145.71,362.72 145.56,359.82C145.41,356.92 146.72,354.46 148.17,352.86Z"/><path d="M149.34,355.72C150.57,354.36 152.67,353.38 154.52,353.50C156.37,353.62 159.08,354.61 160.44,356.46C161.80,358.31 162.41,361.52 162.66,364.60C162.91,367.68 162.29,371.63 161.92,374.96C161.55,378.29 161.06,381.80 160.44,384.58C159.82,387.36 159.08,390.75 158.22,391.61C157.36,392.47 156.00,391.55 155.26,389.76C154.52,387.97 154.64,384.09 153.78,380.88C152.92,377.67 151.19,373.73 150.08,370.52C148.97,367.31 147.24,364.11 147.12,361.64C147.00,359.17 148.11,357.08 149.34,355.72Z"/><path d="M150.51,358.58C151.53,357.46 153.25,356.65 154.78,356.75C156.31,356.85 158.54,357.67 159.66,359.19C160.78,360.71 161.29,363.36 161.49,365.90C161.69,368.44 161.19,371.69 160.88,374.44C160.57,377.19 160.17,380.08 159.66,382.37C159.15,384.66 158.54,387.45 157.83,388.17C157.12,388.88 156.00,388.11 155.39,386.64C154.78,385.17 154.88,381.96 154.17,379.32C153.46,376.68 152.03,373.42 151.12,370.78C150.21,368.14 148.78,365.49 148.68,363.46C148.58,361.43 149.49,359.70 150.51,358.58Z"/><path d="M151.68,361.44C152.48,360.56 153.84,359.92 155.04,360.00C156.24,360.08 158.00,360.72 158.88,361.92C159.76,363.12 160.16,365.20 160.32,367.20C160.48,369.20 160.08,371.76 159.84,373.92C159.60,376.08 159.28,378.36 158.88,380.16C158.48,381.96 158.00,384.16 157.44,384.72C156.88,385.28 156.00,384.68 155.52,383.52C155.04,382.36 155.12,379.84 154.56,377.76C154.00,375.68 152.88,373.12 152.16,371.04C151.44,368.96 150.32,366.88 150.24,365.28C150.16,363.68 150.88,362.32 151.68,361.44Z"/><path d="M152.85,364.30C153.43,363.66 154.43,363.19 155.30,363.25C156.18,363.31 157.46,363.77 158.10,364.65C158.74,365.52 159.03,367.04 159.15,368.50C159.27,369.96 158.98,371.82 158.80,373.40C158.62,374.97 158.39,376.64 158.10,377.95C157.81,379.26 157.46,380.87 157.05,381.27C156.64,381.68 156.00,381.25 155.65,380.40C155.30,379.55 155.36,377.72 154.95,376.20C154.54,374.68 153.72,372.82 153.20,371.30C152.67,369.78 151.86,368.27 151.80,367.10C151.74,365.93 152.27,364.94 152.85,364.30Z"/></g>
<path d="M149.76,356.96C150.36,355.28 151.56,353.18 153.36,351.92C155.16,350.66 158.04,349.82 160.56,349.40C163.08,348.98 166.38,348.98 168.48,349.40C170.58,349.82 172.44,350.42 173.16,351.92C173.88,353.42 173.46,356.24 172.80,358.40C172.14,360.56 170.64,362.60 169.20,364.88C167.76,367.16 165.84,369.74 164.16,372.08C162.48,374.42 160.56,378.20 159.12,378.92C157.68,379.64 156.60,378.02 155.52,376.40C154.44,374.78 153.60,371.60 152.64,369.20C151.68,366.80 150.24,364.04 149.76,362.00C149.28,359.96 149.16,358.64 149.76,356.96Z" fill="none" stroke="#c6b59b" stroke-opacity="0.75" stroke-width="1.6" filter="url(#b1)"/>
<path d="M160,352 C166,350 169,354 166,358 C163,362 160,368 158,376" fill="none" stroke="#c9b79c" stroke-opacity="0.6" stroke-width="1.6" stroke-linecap="round" stroke-linejoin="round" filter="url(#b05)"/>
<path d="M165,355 C163,361 160,368 158,374" fill="none" stroke="#fbf7f0" stroke-opacity="0.8" stroke-width="1.4" stroke-linecap="round" stroke-linejoin="round" filter="url(#b05)"/>
<path d="M243.50,352.00C244.33,349.50 245.58,347.92 248.00,347.00C250.42,346.08 254.83,346.50 258.00,346.50C261.17,346.50 264.92,346.08 267.00,347.00C269.08,347.92 269.92,348.83 270.50,352.00C271.08,355.17 271.08,362.00 270.50,366.00C269.92,370.00 269.08,373.25 267.00,376.00C264.92,378.75 261.00,381.50 258.00,382.50C255.00,383.50 251.33,383.25 249.00,382.00C246.67,380.75 245.00,378.33 244.00,375.00C243.00,371.67 243.08,365.83 243.00,362.00C242.92,358.17 242.67,354.50 243.50,352.00Z" fill="#eee7dc" fill-opacity="0.95" filter="url(#b1)"/>
<path d="M243.91,352.36C244.71,349.94 245.93,348.40 248.27,347.51C250.61,346.62 254.90,347.02 257.97,347.02C261.04,347.02 264.68,346.62 266.70,347.51C268.72,348.40 269.53,349.29 270.10,352.36C270.66,355.43 270.66,362.06 270.10,365.94C269.53,369.82 268.72,372.97 266.70,375.64C264.68,378.31 260.88,380.98 257.97,381.94C255.06,382.91 251.50,382.67 249.24,381.46C246.98,380.25 245.36,377.90 244.39,374.67C243.42,371.44 243.50,365.78 243.42,362.06C243.34,358.34 243.10,354.79 243.91,352.36Z" fill="none" stroke="#d3c1a5" stroke-opacity="0.65" stroke-width="2.0" filter="url(#b1)"/>
<path d="M245,352 C245,362 245.5,372 247,380" fill="none" stroke="#c4a67e" stroke-opacity="0.4" stroke-width="2.0" stroke-linecap="round" stroke-linejoin="round" filter="url(#b1)"/>
<path d="M246,350 C249,347.5 253,347.3 256,347.5" fill="none" stroke="#d4a470" stroke-opacity="0.55" stroke-width="2.2" stroke-linecap="round" stroke-linejoin="round" filter="url(#b1)"/>
<g fill="none" stroke="#cbcbcb" stroke-opacity="0.8" stroke-width="0.55" filter="url(#b05)"><path d="M250.00,350.00C252.67,346.92 258.33,347.83 262.00,347.50C265.67,347.17 269.42,346.58 272.00,348.00C274.58,349.42 276.67,352.33 277.50,356.00C278.33,359.67 277.58,365.67 277.00,370.00C276.42,374.33 275.83,379.00 274.00,382.00C272.17,385.00 269.33,387.00 266.00,388.00C262.67,389.00 257.17,388.83 254.00,388.00C250.83,387.17 248.33,386.67 247.00,383.00C245.67,379.33 245.50,371.50 246.00,366.00C246.50,360.50 247.33,353.08 250.00,350.00Z"/><path d="M251.44,352.16C253.79,349.45 258.77,350.25 262.00,349.96C265.23,349.67 268.53,349.15 270.80,350.40C273.07,351.65 274.91,354.21 275.64,357.44C276.37,360.67 275.71,365.95 275.20,369.76C274.69,373.57 274.17,377.68 272.56,380.32C270.95,382.96 268.45,384.72 265.52,385.60C262.59,386.48 257.75,386.33 254.96,385.60C252.17,384.87 249.97,384.43 248.80,381.20C247.63,377.97 247.48,371.08 247.92,366.24C248.36,361.40 249.09,354.87 251.44,352.16Z"/><path d="M252.88,354.32C254.91,351.98 259.21,352.67 262.00,352.42C264.79,352.17 267.64,351.72 269.60,352.80C271.56,353.88 273.15,356.09 273.78,358.88C274.41,361.67 273.84,366.23 273.40,369.52C272.96,372.81 272.51,376.36 271.12,378.64C269.73,380.92 267.57,382.44 265.04,383.20C262.51,383.96 258.33,383.83 255.92,383.20C253.51,382.57 251.61,382.19 250.60,379.40C249.59,376.61 249.46,370.66 249.84,366.48C250.22,362.30 250.85,356.66 252.88,354.32Z"/><path d="M254.32,356.48C256.03,354.51 259.65,355.09 262.00,354.88C264.35,354.67 266.75,354.29 268.40,355.20C270.05,356.11 271.39,357.97 271.92,360.32C272.45,362.67 271.97,366.51 271.60,369.28C271.23,372.05 270.85,375.04 269.68,376.96C268.51,378.88 266.69,380.16 264.56,380.80C262.43,381.44 258.91,381.33 256.88,380.80C254.85,380.27 253.25,379.95 252.40,377.60C251.55,375.25 251.44,370.24 251.76,366.72C252.08,363.20 252.61,358.45 254.32,356.48Z"/><path d="M255.76,358.64C257.15,357.04 260.09,357.51 262.00,357.34C263.91,357.17 265.86,356.86 267.20,357.60C268.54,358.34 269.63,359.85 270.06,361.76C270.49,363.67 270.10,366.79 269.80,369.04C269.50,371.29 269.19,373.72 268.24,375.28C267.29,376.84 265.81,377.88 264.08,378.40C262.35,378.92 259.49,378.83 257.84,378.40C256.19,377.97 254.89,377.71 254.20,375.80C253.51,373.89 253.42,369.82 253.68,366.96C253.94,364.10 254.37,360.24 255.76,358.64Z"/><path d="M257.20,360.80C258.27,359.57 260.53,359.93 262.00,359.80C263.47,359.67 264.97,359.43 266.00,360.00C267.03,360.57 267.87,361.73 268.20,363.20C268.53,364.67 268.23,367.07 268.00,368.80C267.77,370.53 267.53,372.40 266.80,373.60C266.07,374.80 264.93,375.60 263.60,376.00C262.27,376.40 260.07,376.33 258.80,376.00C257.53,375.67 256.53,375.47 256.00,374.00C255.47,372.53 255.40,369.40 255.60,367.20C255.80,365.00 256.13,362.03 257.20,360.80Z"/></g>
<path d="M248.14,355.84C248.71,354.14 249.56,353.06 251.20,352.44C252.84,351.82 255.85,352.10 258.00,352.10C260.15,352.10 262.70,351.82 264.12,352.44C265.54,353.06 266.10,353.69 266.50,355.84C266.90,357.99 266.90,362.64 266.50,365.36C266.10,368.08 265.54,370.29 264.12,372.16C262.70,374.03 260.04,375.90 258.00,376.58C255.96,377.26 253.47,377.09 251.88,376.24C250.29,375.39 249.16,373.75 248.48,371.48C247.80,369.21 247.86,365.25 247.80,362.64C247.74,360.03 247.57,357.54 248.14,355.84Z" fill="none" stroke="#c6b59b" stroke-opacity="0.75" stroke-width="1.6" filter="url(#b1)"/>
<path d="M253,356 C252,362 252,368 253,374" fill="none" stroke="#fbf7f0" stroke-opacity="0.75" stroke-width="1.5" stroke-linecap="round" stroke-linejoin="round" filter="url(#b05)"/>
<path d="M310.50,352.00C311.50,349.67 313.42,347.17 316.00,346.00C318.58,344.83 322.83,344.75 326.00,345.00C329.17,345.25 333.00,346.00 335.00,347.50C337.00,349.00 337.50,350.92 338.00,354.00C338.50,357.08 338.67,362.67 338.00,366.00C337.33,369.33 336.17,371.92 334.00,374.00C331.83,376.08 328.00,378.00 325.00,378.50C322.00,379.00 318.33,378.42 316.00,377.00C313.67,375.58 312.00,372.83 311.00,370.00C310.00,367.17 310.08,363.00 310.00,360.00C309.92,357.00 309.50,354.33 310.50,352.00Z" fill="#eee7dc" fill-opacity="0.95" filter="url(#b1)"/>
<path d="M310.90,352.30C311.88,350.04 313.73,347.61 316.24,346.48C318.75,345.35 322.87,345.27 325.94,345.51C329.01,345.75 332.73,346.48 334.67,347.94C336.61,349.39 337.09,351.25 337.58,354.24C338.06,357.23 338.23,362.65 337.58,365.88C336.93,369.11 335.80,371.62 333.70,373.64C331.60,375.66 327.88,377.52 324.97,378.00C322.06,378.49 318.50,377.92 316.24,376.55C313.98,375.18 312.36,372.51 311.39,369.76C310.42,367.01 310.50,362.97 310.42,360.06C310.34,357.15 309.93,354.56 310.90,352.30Z" fill="none" stroke="#d3c1a5" stroke-opacity="0.65" stroke-width="2.0" filter="url(#b1)"/>
<path d="M311.5,354 C314,347 321,345.5 330,346" fill="none" stroke="#c4a67e" stroke-opacity="0.55" stroke-width="2.4" stroke-linecap="round" stroke-linejoin="round" filter="url(#b1)"/>
<g fill="none" stroke="#cbcbcb" stroke-opacity="0.8" stroke-width="0.55" filter="url(#b05)"><path d="M328.00,360.00C330.50,357.58 336.50,357.33 340.00,357.50C343.50,357.67 346.75,359.08 349.00,361.00C351.25,362.92 353.17,366.17 353.50,369.00C353.83,371.83 352.92,375.92 351.00,378.00C349.08,380.08 345.50,381.00 342.00,381.50C338.50,382.00 332.83,382.58 330.00,381.00C327.17,379.42 325.33,375.50 325.00,372.00C324.67,368.50 325.50,362.42 328.00,360.00Z"/><path d="M329.30,361.30C331.48,359.20 336.69,358.98 339.74,359.12C342.79,359.27 345.61,360.50 347.57,362.17C349.53,363.84 351.19,366.67 351.49,369.13C351.78,371.59 350.98,375.15 349.31,376.96C347.64,378.77 344.53,379.57 341.48,380.00C338.44,380.44 333.50,380.95 331.04,379.57C328.58,378.19 326.98,374.79 326.69,371.74C326.40,368.69 327.12,363.40 329.30,361.30Z"/><path d="M330.60,362.60C332.45,360.81 336.89,360.63 339.48,360.75C342.07,360.87 344.47,361.92 346.14,363.34C347.81,364.76 349.22,367.16 349.47,369.26C349.72,371.36 349.04,374.38 347.62,375.92C346.20,377.46 343.55,378.14 340.96,378.51C338.37,378.88 334.18,379.31 332.08,378.14C329.98,376.97 328.63,374.07 328.38,371.48C328.13,368.89 328.75,364.39 330.60,362.60Z"/><path d="M331.90,363.90C333.42,362.43 337.09,362.27 339.22,362.38C341.36,362.48 343.34,363.34 344.71,364.51C346.08,365.68 347.25,367.66 347.45,369.39C347.66,371.12 347.10,373.61 345.93,374.88C344.76,376.15 342.57,376.71 340.44,377.01C338.31,377.32 334.85,377.68 333.12,376.71C331.39,375.74 330.27,373.36 330.07,371.22C329.87,369.09 330.38,365.37 331.90,363.90Z"/><path d="M333.20,365.20C334.40,364.04 337.28,363.92 338.96,364.00C340.64,364.08 342.20,364.76 343.28,365.68C344.36,366.60 345.28,368.16 345.44,369.52C345.60,370.88 345.16,372.84 344.24,373.84C343.32,374.84 341.60,375.28 339.92,375.52C338.24,375.76 335.52,376.04 334.16,375.28C332.80,374.52 331.92,372.64 331.76,370.96C331.60,369.28 332.00,366.36 333.20,365.20Z"/><path d="M334.50,366.50C335.38,365.65 337.47,365.57 338.70,365.62C339.93,365.68 341.06,366.18 341.85,366.85C342.64,367.52 343.31,368.66 343.43,369.65C343.54,370.64 343.22,372.07 342.55,372.80C341.88,373.53 340.62,373.85 339.40,374.02C338.17,374.20 336.19,374.40 335.20,373.85C334.21,373.30 333.57,371.93 333.45,370.70C333.33,369.47 333.62,367.35 334.50,366.50Z"/></g>
<g fill="none" stroke="#cbcbcb" stroke-opacity="0.8" stroke-width="0.55" filter="url(#b05)"><path d="M315.00,378.00C316.42,375.83 320.00,375.50 322.00,376.00C324.00,376.50 326.50,378.83 327.00,381.00C327.50,383.17 326.33,387.00 325.00,389.00C323.67,391.00 320.92,393.00 319.00,393.00C317.08,393.00 314.17,391.50 313.50,389.00C312.83,386.50 313.58,380.17 315.00,378.00Z"/><path d="M316.08,379.30C317.19,377.60 320.00,377.34 321.57,377.73C323.13,378.12 325.09,379.95 325.48,381.65C325.88,383.35 324.96,386.35 323.92,387.92C322.87,389.48 320.72,391.05 319.22,391.05C317.72,391.05 315.43,389.88 314.91,387.92C314.39,385.96 314.97,381.00 316.08,379.30Z"/><path d="M317.17,380.60C317.97,379.37 320.00,379.18 321.13,379.47C322.27,379.75 323.68,381.07 323.97,382.30C324.25,383.53 323.59,385.70 322.83,386.83C322.08,387.97 320.52,389.10 319.43,389.10C318.35,389.10 316.69,388.25 316.32,386.83C315.94,385.42 316.36,381.83 317.17,380.60Z"/><path d="M318.25,381.90C318.75,381.14 320.00,381.02 320.70,381.20C321.40,381.38 322.27,382.19 322.45,382.95C322.62,383.71 322.22,385.05 321.75,385.75C321.28,386.45 320.32,387.15 319.65,387.15C318.98,387.15 317.96,386.62 317.73,385.75C317.49,384.88 317.75,382.66 318.25,381.90Z"/></g>
<path d="M314.82,355.84C315.50,354.25 316.80,352.55 318.56,351.76C320.32,350.97 323.21,350.91 325.36,351.08C327.51,351.25 330.12,351.76 331.48,352.78C332.84,353.80 333.18,355.10 333.52,357.20C333.86,359.30 333.97,363.09 333.52,365.36C333.07,367.63 332.27,369.38 330.80,370.80C329.33,372.22 326.72,373.52 324.68,373.86C322.64,374.20 320.15,373.80 318.56,372.84C316.97,371.88 315.84,370.01 315.16,368.08C314.48,366.15 314.54,363.32 314.48,361.28C314.42,359.24 314.14,357.43 314.82,355.84Z" fill="none" stroke="#c6b59b" stroke-opacity="0.75" stroke-width="1.6" filter="url(#b1)"/>
<path d="M321,355 C320,361 320,367 321,372" fill="none" stroke="#fbf7f0" stroke-opacity="0.75" stroke-width="1.5" stroke-linecap="round" stroke-linejoin="round" filter="url(#b05)"/>
<path d="M409.00,352.00C409.83,348.83 411.67,347.22 414.00,346.00C416.33,344.78 420.00,344.53 423.00,344.70C426.00,344.87 429.50,345.62 432.00,347.00C434.50,348.38 436.75,350.50 438.00,353.00C439.25,355.50 439.67,358.83 439.50,362.00C439.33,365.17 438.58,369.25 437.00,372.00C435.42,374.75 432.83,377.33 430.00,378.50C427.17,379.67 423.00,379.58 420.00,379.00C417.00,378.42 413.83,377.33 412.00,375.00C410.17,372.67 409.50,368.83 409.00,365.00C408.50,361.17 408.17,355.17 409.00,352.00Z" fill="#eee7dc" fill-opacity="0.95" filter="url(#b1)"/>
<path d="M409.45,352.30C410.26,349.23 412.04,347.66 414.30,346.48C416.56,345.30 420.12,345.06 423.03,345.22C425.94,345.38 429.33,346.11 431.76,347.45C434.19,348.79 436.37,350.84 437.58,353.27C438.79,355.69 439.20,358.93 439.04,362.00C438.87,365.07 438.15,369.03 436.61,371.70C435.07,374.37 432.57,376.87 429.82,378.00C427.07,379.14 423.03,379.06 420.12,378.49C417.21,377.92 414.14,376.87 412.36,374.61C410.58,372.35 409.94,368.63 409.45,364.91C408.96,361.19 408.64,355.37 409.45,352.30Z" fill="none" stroke="#d3c1a5" stroke-opacity="0.65" stroke-width="2.0" filter="url(#b1)"/>
<path d="M410.5,354 C413,347 420,345.5 428,346" fill="none" stroke="#c4a67e" stroke-opacity="0.55" stroke-width="2.4" stroke-linecap="round" stroke-linejoin="round" filter="url(#b1)"/>
<g fill="none" stroke="#cbcbcb" stroke-opacity="0.8" stroke-width="0.55" filter="url(#b05)"><path d="M412.00,366.00C413.50,363.33 416.67,362.00 419.00,362.00C421.33,362.00 424.67,363.67 426.00,366.00C427.33,368.33 427.17,372.67 427.00,376.00C426.83,379.33 426.33,383.33 425.00,386.00C423.67,388.67 421.17,391.50 419.00,392.00C416.83,392.50 413.50,391.33 412.00,389.00C410.50,386.67 410.00,381.83 410.00,378.00C410.00,374.17 410.50,368.67 412.00,366.00Z"/><path d="M412.90,367.80C414.17,365.53 416.87,364.40 418.85,364.40C420.83,364.40 423.67,365.82 424.80,367.80C425.93,369.78 425.79,373.47 425.65,376.30C425.51,379.13 425.08,382.53 423.95,384.80C422.82,387.07 420.69,389.47 418.85,389.90C417.01,390.32 414.17,389.33 412.90,387.35C411.62,385.37 411.20,381.26 411.20,378.00C411.20,374.74 411.62,370.07 412.90,367.80Z"/><path d="M413.80,369.60C414.85,367.73 417.07,366.80 418.70,366.80C420.33,366.80 422.67,367.97 423.60,369.60C424.53,371.23 424.42,374.27 424.30,376.60C424.18,378.93 423.83,381.73 422.90,383.60C421.97,385.47 420.22,387.45 418.70,387.80C417.18,388.15 414.85,387.33 413.80,385.70C412.75,384.07 412.40,380.68 412.40,378.00C412.40,375.32 412.75,371.47 413.80,369.60Z"/><path d="M414.70,371.40C415.52,369.93 417.27,369.20 418.55,369.20C419.83,369.20 421.67,370.12 422.40,371.40C423.13,372.68 423.04,375.07 422.95,376.90C422.86,378.73 422.58,380.93 421.85,382.40C421.12,383.87 419.74,385.42 418.55,385.70C417.36,385.98 415.52,385.33 414.70,384.05C413.88,382.77 413.60,380.11 413.60,378.00C413.60,375.89 413.88,372.87 414.70,371.40Z"/><path d="M415.60,373.20C416.20,372.13 417.47,371.60 418.40,371.60C419.33,371.60 420.67,372.27 421.20,373.20C421.73,374.13 421.67,375.87 421.60,377.20C421.53,378.53 421.33,380.13 420.80,381.20C420.27,382.27 419.27,383.40 418.40,383.60C417.53,383.80 416.20,383.33 415.60,382.40C415.00,381.47 414.80,379.53 414.80,378.00C414.80,376.47 415.00,374.27 415.60,373.20Z"/></g>
<path d="M411.25,353.50C411.96,350.81 413.52,349.43 415.50,348.40C417.48,347.37 420.60,347.15 423.15,347.30C425.70,347.44 428.68,348.07 430.80,349.25C432.93,350.43 434.84,352.23 435.90,354.35C436.96,356.48 437.32,359.31 437.18,362.00C437.03,364.69 436.40,368.16 435.05,370.50C433.70,372.84 431.51,375.03 429.10,376.02C426.69,377.02 423.15,376.95 420.60,376.45C418.05,375.95 415.36,375.03 413.80,373.05C412.24,371.07 411.68,367.81 411.25,364.55C410.82,361.29 410.54,356.19 411.25,353.50Z" fill="none" stroke="#cdc6ba" stroke-opacity="0.6" stroke-width="0.8" filter="url(#b05)"/>
<path d="M414.32,355.80C414.84,353.84 415.97,352.83 417.42,352.08C418.87,351.33 421.14,351.17 423.00,351.27C424.86,351.38 427.03,351.84 428.58,352.70C430.13,353.56 431.52,354.87 432.30,356.42C433.08,357.97 433.33,360.04 433.23,362.00C433.13,363.96 432.66,366.50 431.68,368.20C430.70,369.90 429.10,371.51 427.34,372.23C425.58,372.95 423.00,372.90 421.14,372.54C419.28,372.18 417.32,371.51 416.18,370.06C415.04,368.61 414.63,366.24 414.32,363.86C414.01,361.48 413.80,357.76 414.32,355.80Z" fill="none" stroke="#c6b59b" stroke-opacity="0.75" stroke-width="1.6" filter="url(#b1)"/>
<path d="M420.00,357.00C420.83,356.00 425.00,355.33 426.00,356.00C427.00,356.67 426.83,360.00 426.00,361.00C425.17,362.00 422.00,362.67 421.00,362.00C420.00,361.33 419.17,358.00 420.00,357.00Z" fill="#f8f2ea" fill-opacity="0.9" filter="url(#b05)"/>
<defs><linearGradient id="gbp" x1="0" y1="0" x2="1" y2="0"><stop offset="0" stop-color="#c29a7a"/><stop offset="0.45" stop-color="#b08a78"/><stop offset="1" stop-color="#8672c0"/></linearGradient><linearGradient id="gpb" x1="0" y1="0" x2="0" y2="1"><stop offset="0" stop-color="#8e7cc4"/><stop offset="0.45" stop-color="#b89478"/><stop offset="1" stop-color="#d6c2a4"/></linearGradient><linearGradient id="gpb2" x1="0" y1="0" x2="1" y2="1"><stop offset="0" stop-color="#8470c0"/><stop offset="0.5" stop-color="#b48c6e"/><stop offset="1" stop-color="#d0b898"/></linearGradient></defs>
<g fill="none" stroke="#cbcbcb" stroke-opacity="0.8" stroke-width="0.55" filter="url(#b05)"><path d="M58.00,447.00C59.58,445.33 63.33,445.00 66.00,445.00C68.67,445.00 71.83,445.17 74.00,447.00C76.17,448.83 78.17,452.83 79.00,456.00C79.83,459.17 79.50,462.67 79.00,466.00C78.50,469.33 77.83,473.83 76.00,476.00C74.17,478.17 70.33,479.00 68.00,479.00C65.67,479.00 63.67,478.17 62.00,476.00C60.33,473.83 58.92,469.50 58.00,466.00C57.08,462.50 56.50,458.17 56.50,455.00C56.50,451.83 56.42,448.67 58.00,447.00Z"/><path d="M59.25,448.88C60.64,447.42 63.92,447.12 66.25,447.12C68.58,447.12 71.35,447.27 73.25,448.88C75.15,450.48 76.90,453.98 77.62,456.75C78.35,459.52 78.06,462.58 77.62,465.50C77.19,468.42 76.60,472.35 75.00,474.25C73.40,476.15 70.04,476.88 68.00,476.88C65.96,476.88 64.21,476.15 62.75,474.25C61.29,472.35 60.05,468.56 59.25,465.50C58.45,462.44 57.94,458.65 57.94,455.88C57.94,453.10 57.86,450.33 59.25,448.88Z"/><path d="M60.50,450.75C61.69,449.50 64.50,449.25 66.50,449.25C68.50,449.25 70.88,449.38 72.50,450.75C74.12,452.12 75.62,455.12 76.25,457.50C76.88,459.88 76.62,462.50 76.25,465.00C75.88,467.50 75.38,470.88 74.00,472.50C72.62,474.12 69.75,474.75 68.00,474.75C66.25,474.75 64.75,474.12 63.50,472.50C62.25,470.88 61.19,467.62 60.50,465.00C59.81,462.38 59.38,459.12 59.38,456.75C59.38,454.38 59.31,452.00 60.50,450.75Z"/><path d="M61.75,452.62C62.74,451.58 65.08,451.38 66.75,451.38C68.42,451.38 70.40,451.48 71.75,452.62C73.10,453.77 74.35,456.27 74.88,458.25C75.40,460.23 75.19,462.42 74.88,464.50C74.56,466.58 74.15,469.40 73.00,470.75C71.85,472.10 69.46,472.62 68.00,472.62C66.54,472.62 65.29,472.10 64.25,470.75C63.21,469.40 62.32,466.69 61.75,464.50C61.18,462.31 60.81,459.60 60.81,457.62C60.81,455.65 60.76,453.67 61.75,452.62Z"/><path d="M63.00,454.50C63.79,453.67 65.67,453.50 67.00,453.50C68.33,453.50 69.92,453.58 71.00,454.50C72.08,455.42 73.08,457.42 73.50,459.00C73.92,460.58 73.75,462.33 73.50,464.00C73.25,465.67 72.92,467.92 72.00,469.00C71.08,470.08 69.17,470.50 68.00,470.50C66.83,470.50 65.83,470.08 65.00,469.00C64.17,467.92 63.46,465.75 63.00,464.00C62.54,462.25 62.25,460.08 62.25,458.50C62.25,456.92 62.21,455.33 63.00,454.50Z"/><path d="M64.25,456.38C64.84,455.75 66.25,455.62 67.25,455.62C68.25,455.62 69.44,455.69 70.25,456.38C71.06,457.06 71.81,458.56 72.12,459.75C72.44,460.94 72.31,462.25 72.12,463.50C71.94,464.75 71.69,466.44 71.00,467.25C70.31,468.06 68.88,468.38 68.00,468.38C67.12,468.38 66.38,468.06 65.75,467.25C65.12,466.44 64.59,464.81 64.25,463.50C63.91,462.19 63.69,460.56 63.69,459.38C63.69,458.19 63.66,457.00 64.25,456.38Z"/><path d="M65.50,458.25C65.90,457.83 66.83,457.75 67.50,457.75C68.17,457.75 68.96,457.79 69.50,458.25C70.04,458.71 70.54,459.71 70.75,460.50C70.96,461.29 70.88,462.17 70.75,463.00C70.62,463.83 70.46,464.96 70.00,465.50C69.54,466.04 68.58,466.25 68.00,466.25C67.42,466.25 66.92,466.04 66.50,465.50C66.08,464.96 65.73,463.88 65.50,463.00C65.27,462.12 65.12,461.04 65.12,460.25C65.12,459.46 65.10,458.67 65.50,458.25Z"/></g>
<path d="M71.00,438.00C72.00,435.00 75.17,432.92 78.00,432.00C80.83,431.08 85.17,431.33 88.00,432.50C90.83,433.67 93.58,436.08 95.00,439.00C96.42,441.92 96.50,446.33 96.50,450.00C96.50,453.67 96.25,457.92 95.00,461.00C93.75,464.08 91.33,467.17 89.00,468.50C86.67,469.83 83.33,470.08 81.00,469.00C78.67,467.92 76.50,465.17 75.00,462.00C73.50,458.83 72.67,454.00 72.00,450.00C71.33,446.00 70.00,441.00 71.00,438.00Z" fill="#e8e2d0" fill-opacity="0.85" filter="url(#b1)"/>
<path d="M71.39,438.36C72.36,435.45 75.43,433.43 78.18,432.54C80.93,431.65 85.13,431.89 87.88,433.02C90.63,434.16 93.30,436.50 94.67,439.33C96.04,442.16 96.12,446.44 96.12,450.00C96.12,453.56 95.88,457.68 94.67,460.67C93.46,463.66 91.11,466.65 88.85,467.94C86.59,469.24 83.35,469.48 81.09,468.43C78.83,467.38 76.72,464.71 75.27,461.64C73.81,458.57 73.01,453.88 72.36,450.00C71.71,446.12 70.42,441.27 71.39,438.36Z" fill="none" stroke="#d4c4a4" stroke-opacity="0.75" stroke-width="2.0" filter="url(#b1)"/>
<path d="M74.25,441.50C75.00,439.25 77.38,437.69 79.50,437.00C81.62,436.31 84.88,436.50 87.00,437.38C89.12,438.25 91.19,440.06 92.25,442.25C93.31,444.44 93.38,447.75 93.38,450.50C93.38,453.25 93.19,456.44 92.25,458.75C91.31,461.06 89.50,463.38 87.75,464.38C86.00,465.38 83.50,465.56 81.75,464.75C80.00,463.94 78.38,461.88 77.25,459.50C76.12,457.12 75.50,453.50 75.00,450.50C74.50,447.50 73.50,443.75 74.25,441.50Z" fill="none" stroke="#cfc6b0" stroke-opacity="0.55" stroke-width="0.8" filter="url(#b05)"/>
<ellipse cx="87" cy="453" rx="7.5" ry="8" fill="#d2d8b4" fill-opacity="0.6" transform="rotate(0 87 453)" filter="url(#b2)"/>
<path d="M47,437.3 C58,437 70,437.3 84,437.5" fill="none" stroke="#c9c4e8" stroke-opacity="0.95" stroke-width="14.5" stroke-linecap="round" stroke-linejoin="round" filter="url(#b1)"/>
<path d="M47,437.3 C58,437 70,437.3 84,437.5" fill="none" stroke="#aaa2da" stroke-opacity="0.7" stroke-width="10.0" stroke-linecap="round" stroke-linejoin="round" filter="url(#b1)"/>
<path d="M58,433.5 C68,431.5 80,431.5 89,434.5" fill="none" stroke="#7a68b6" stroke-opacity="0.55" stroke-width="3.2" stroke-linecap="round" stroke-linejoin="round" filter="url(#b1)"/>
<ellipse cx="81" cy="440.5" rx="8" ry="5.5" fill="#b48e78" fill-opacity="0.55" transform="rotate(0 81 440.5)" filter="url(#b2)"/>
<path d="M50,437.5 C58,437.2 66,437.8 72,438" fill="none" stroke="#d4cdee" stroke-opacity="0.55" stroke-width="3.0" stroke-linecap="round" stroke-linejoin="round" filter="url(#b1)"/>
<g fill="none" stroke="#cbcbcb" stroke-opacity="0.8" stroke-width="0.55" filter="url(#b05)"><path d="M150.00,452.00C151.33,449.67 154.00,448.17 156.00,448.00C158.00,447.83 160.83,448.67 162.00,451.00C163.17,453.33 163.00,458.17 163.00,462.00C163.00,465.83 162.50,470.33 162.00,474.00C161.50,477.67 160.83,481.83 160.00,484.00C159.17,486.17 158.00,487.17 157.00,487.00C156.00,486.83 154.83,485.50 154.00,483.00C153.17,480.50 153.00,475.50 152.00,472.00C151.00,468.50 148.33,465.33 148.00,462.00C147.67,458.67 148.67,454.33 150.00,452.00Z"/><path d="M150.78,453.82C151.94,451.79 154.26,450.48 156.00,450.34C157.74,450.19 160.20,450.92 161.22,452.95C162.24,454.98 162.09,459.19 162.09,462.52C162.09,465.85 161.66,469.77 161.22,472.96C160.78,476.15 160.20,479.78 159.48,481.66C158.75,483.55 157.74,484.41 156.87,484.27C156.00,484.12 154.98,482.97 154.26,480.79C153.53,478.62 153.39,474.27 152.52,471.22C151.65,468.18 149.33,465.42 149.04,462.52C148.75,459.62 149.62,455.85 150.78,453.82Z"/><path d="M151.56,455.64C152.55,453.91 154.52,452.80 156.00,452.68C157.48,452.56 159.58,453.17 160.44,454.90C161.30,456.63 161.18,460.20 161.18,463.04C161.18,465.88 160.81,469.21 160.44,471.92C160.07,474.63 159.58,477.72 158.96,479.32C158.34,480.92 157.48,481.66 156.74,481.54C156.00,481.42 155.14,480.43 154.52,478.58C153.90,476.73 153.78,473.03 153.04,470.44C152.30,467.85 150.33,465.51 150.08,463.04C149.83,460.57 150.57,457.37 151.56,455.64Z"/><path d="M152.34,457.46C153.15,456.04 154.78,455.12 156.00,455.02C157.22,454.92 158.95,455.43 159.66,456.85C160.37,458.27 160.27,461.22 160.27,463.56C160.27,465.90 159.97,468.64 159.66,470.88C159.35,473.12 158.95,475.66 158.44,476.98C157.93,478.30 157.22,478.91 156.61,478.81C156.00,478.71 155.29,477.89 154.78,476.37C154.27,474.85 154.17,471.80 153.56,469.66C152.95,467.53 151.32,465.59 151.12,463.56C150.92,461.53 151.53,458.88 152.34,457.46Z"/><path d="M153.12,459.28C153.76,458.16 155.04,457.44 156.00,457.36C156.96,457.28 158.32,457.68 158.88,458.80C159.44,459.92 159.36,462.24 159.36,464.08C159.36,465.92 159.12,468.08 158.88,469.84C158.64,471.60 158.32,473.60 157.92,474.64C157.52,475.68 156.96,476.16 156.48,476.08C156.00,476.00 155.44,475.36 155.04,474.16C154.64,472.96 154.56,470.56 154.08,468.88C153.60,467.20 152.32,465.68 152.16,464.08C152.00,462.48 152.48,460.40 153.12,459.28Z"/><path d="M153.90,461.10C154.37,460.28 155.30,459.76 156.00,459.70C156.70,459.64 157.69,459.93 158.10,460.75C158.51,461.57 158.45,463.26 158.45,464.60C158.45,465.94 158.27,467.52 158.10,468.80C157.93,470.08 157.69,471.54 157.40,472.30C157.11,473.06 156.70,473.41 156.35,473.35C156.00,473.29 155.59,472.82 155.30,471.95C155.01,471.07 154.95,469.33 154.60,468.10C154.25,466.88 153.32,465.77 153.20,464.60C153.08,463.43 153.43,461.92 153.90,461.10Z"/></g>
<path d="M144.50,446.00C145.33,443.17 147.42,439.00 150.00,437.00C152.58,435.00 156.33,434.33 160.00,434.00C163.67,433.67 169.17,433.83 172.00,435.00C174.83,436.17 176.67,438.17 177.00,441.00C177.33,443.83 175.50,448.67 174.00,452.00C172.50,455.33 170.33,458.00 168.00,461.00C165.67,464.00 162.50,468.42 160.00,470.00C157.50,471.58 155.00,471.83 153.00,470.50C151.00,469.17 149.33,464.75 148.00,462.00C146.67,459.25 145.58,456.67 145.00,454.00C144.42,451.33 143.67,448.83 144.50,446.00Z" fill="#eee7dc" fill-opacity="0.8" filter="url(#b1)"/>
<path d="M144.97,446.12C145.77,443.37 147.79,439.33 150.30,437.39C152.81,435.45 156.44,434.80 160.00,434.48C163.56,434.16 168.89,434.32 171.64,435.45C174.39,436.58 176.17,438.52 176.49,441.27C176.81,444.02 175.04,448.71 173.58,451.94C172.12,455.17 170.02,457.76 167.76,460.67C165.50,463.58 162.43,467.86 160.00,469.40C157.57,470.94 155.15,471.18 153.21,469.88C151.27,468.59 149.65,464.31 148.36,461.64C147.07,458.97 146.02,456.47 145.45,453.88C144.88,451.29 144.16,448.87 144.97,446.12Z" fill="none" stroke="#d3c1a5" stroke-opacity="0.8" stroke-width="1.8" filter="url(#b1)"/>
<path d="M148.84,447.68C149.44,445.64 150.94,442.64 152.80,441.20C154.66,439.76 157.36,439.28 160.00,439.04C162.64,438.80 166.60,438.92 168.64,439.76C170.68,440.60 172.00,442.04 172.24,444.08C172.48,446.12 171.16,449.60 170.08,452.00C169.00,454.40 167.44,456.32 165.76,458.48C164.08,460.64 161.80,463.82 160.00,464.96C158.20,466.10 156.40,466.28 154.96,465.32C153.52,464.36 152.32,461.18 151.36,459.20C150.40,457.22 149.62,455.36 149.20,453.44C148.78,451.52 148.24,449.72 148.84,447.68Z" fill="none" stroke="#cfc2b0" stroke-opacity="0.55" stroke-width="0.8" filter="url(#b05)"/>
<ellipse cx="166.5" cy="439" rx="16.5" ry="9.5" fill="url(#gbp)" fill-opacity="0.7" transform="rotate(-8 166.5 439)" filter="url(#b1)"/>
<ellipse cx="175" cy="437.5" rx="6" ry="5.5" fill="#7e68ba" fill-opacity="0.45" transform="rotate(0 175 437.5)" filter="url(#b1)"/>
<ellipse cx="163.8" cy="446" rx="2.2" ry="2.0" fill="#a8bce0" fill-opacity="0.7" transform="rotate(0 163.8 446)" filter="url(#b05)"/>
<path d="M247.00,440.00C247.50,436.83 247.83,434.58 250.00,433.00C252.17,431.42 256.50,430.83 260.00,430.50C263.50,430.17 268.33,430.08 271.00,431.00C273.67,431.92 275.00,433.17 276.00,436.00C277.00,438.83 277.33,444.00 277.00,448.00C276.67,452.00 275.67,456.67 274.00,460.00C272.33,463.33 269.83,466.50 267.00,468.00C264.17,469.50 259.83,469.67 257.00,469.00C254.17,468.33 251.67,466.83 250.00,464.00C248.33,461.17 247.50,456.00 247.00,452.00C246.50,448.00 246.50,443.17 247.00,440.00Z" fill="#eee7dc" fill-opacity="0.8" filter="url(#b1)"/>
<path d="M247.42,440.30C247.91,437.23 248.23,435.05 250.33,433.51C252.43,431.97 256.63,431.41 260.03,431.08C263.42,430.76 268.11,430.68 270.70,431.57C273.29,432.46 274.58,433.67 275.55,436.42C276.52,439.17 276.84,444.18 276.52,448.06C276.20,451.94 275.23,456.47 273.61,459.70C271.99,462.93 269.57,466.00 266.82,467.46C264.07,468.91 259.87,469.08 257.12,468.43C254.37,467.78 251.95,466.33 250.33,463.58C248.71,460.83 247.91,455.82 247.42,451.94C246.93,448.06 246.93,443.37 247.42,440.30Z" fill="none" stroke="#d3c1a5" stroke-opacity="0.8" stroke-width="1.8" filter="url(#b1)"/>
<g fill="none" stroke="#cbcbcb" stroke-opacity="0.75" stroke-width="0.55" filter="url(#b05)"><path d="M264.00,434.00C267.33,427.50 271.50,430.00 274.00,431.00C276.50,432.00 278.08,436.17 279.00,440.00C279.92,443.83 279.67,449.67 279.50,454.00C279.33,458.33 279.25,462.92 278.00,466.00C276.75,469.08 274.67,471.33 272.00,472.50C269.33,473.67 265.00,473.42 262.00,473.00C259.00,472.58 253.67,476.50 254.00,470.00C254.33,463.50 260.67,440.50 264.00,434.00Z"/><path d="M264.40,436.10C267.40,430.25 271.15,432.50 273.40,433.40C275.65,434.30 277.07,438.05 277.90,441.50C278.72,444.95 278.50,450.20 278.35,454.10C278.20,458.00 278.12,462.12 277.00,464.90C275.88,467.67 274.00,469.70 271.60,470.75C269.20,471.80 265.30,471.57 262.60,471.20C259.90,470.82 255.10,474.35 255.40,468.50C255.70,462.65 261.40,441.95 264.40,436.10Z"/><path d="M264.80,438.20C267.47,433.00 270.80,435.00 272.80,435.80C274.80,436.60 276.07,439.93 276.80,443.00C277.53,446.07 277.33,450.73 277.20,454.20C277.07,457.67 277.00,461.33 276.00,463.80C275.00,466.27 273.33,468.07 271.20,469.00C269.07,469.93 265.60,469.73 263.20,469.40C260.80,469.07 256.53,472.20 256.80,467.00C257.07,461.80 262.13,443.40 264.80,438.20Z"/><path d="M265.20,440.30C267.53,435.75 270.45,437.50 272.20,438.20C273.95,438.90 275.06,441.82 275.70,444.50C276.34,447.18 276.17,451.27 276.05,454.30C275.93,457.33 275.88,460.54 275.00,462.70C274.12,464.86 272.67,466.43 270.80,467.25C268.93,468.07 265.90,467.89 263.80,467.60C261.70,467.31 257.97,470.05 258.20,465.50C258.43,460.95 262.87,444.85 265.20,440.30Z"/><path d="M265.60,442.40C267.60,438.50 270.10,440.00 271.60,440.60C273.10,441.20 274.05,443.70 274.60,446.00C275.15,448.30 275.00,451.80 274.90,454.40C274.80,457.00 274.75,459.75 274.00,461.60C273.25,463.45 272.00,464.80 270.40,465.50C268.80,466.20 266.20,466.05 264.40,465.80C262.60,465.55 259.40,467.90 259.60,464.00C259.80,460.10 263.60,446.30 265.60,442.40Z"/></g>
<path d="M250.92,443.36C251.28,441.08 251.52,439.46 253.08,438.32C254.64,437.18 257.76,436.76 260.28,436.52C262.80,436.28 266.28,436.22 268.20,436.88C270.12,437.54 271.08,438.44 271.80,440.48C272.52,442.52 272.76,446.24 272.52,449.12C272.28,452.00 271.56,455.36 270.36,457.76C269.16,460.16 267.36,462.44 265.32,463.52C263.28,464.60 260.16,464.72 258.12,464.24C256.08,463.76 254.28,462.68 253.08,460.64C251.88,458.60 251.28,454.88 250.92,452.00C250.56,449.12 250.56,445.64 250.92,443.36Z" fill="none" stroke="#cfc2b0" stroke-opacity="0.55" stroke-width="0.8" filter="url(#b05)"/>
<path d="M247.5,446 C247,438 249,432 256,430.8 C263,430 271,430.5 275,434 C277,438 277,444 276,447 C268,449 256,449 247.5,446 Z" fill="url(#gpb)" fill-opacity="0.75" filter="url(#b1)"/>
<ellipse cx="256.8" cy="446.5" rx="2.4" ry="1.8" fill="#a0b6e0" fill-opacity="0.85" transform="rotate(0 256.8 446.5)" filter="url(#b05)"/>
<ellipse cx="262" cy="455" rx="5.5" ry="4.5" fill="#dde6cc" fill-opacity="0.6" transform="rotate(0 262 455)" filter="url(#b1)"/>
<path d="M249,442 C248.5,450 249,457 251,463" fill="none" stroke="#c8a474" stroke-opacity="0.45" stroke-width="2.0" stroke-linecap="round" stroke-linejoin="round" filter="url(#b1)"/>
<path d="M310.00,440.00C310.58,436.17 312.00,433.83 314.00,432.00C316.00,430.17 319.17,429.25 322.00,429.00C324.83,428.75 328.75,429.17 331.00,430.50C333.25,431.83 334.67,433.75 335.50,437.00C336.33,440.25 336.58,446.17 336.00,450.00C335.42,453.83 334.00,457.42 332.00,460.00C330.00,462.58 326.83,464.83 324.00,465.50C321.17,466.17 317.25,465.75 315.00,464.00C312.75,462.25 311.33,459.00 310.50,455.00C309.67,451.00 309.42,443.83 310.00,440.00Z" fill="#eee7dc" fill-opacity="0.8" filter="url(#b1)"/>
<path d="M310.39,440.21C310.96,436.49 312.33,434.23 314.27,432.45C316.21,430.67 319.28,429.78 322.03,429.54C324.78,429.30 328.58,429.70 330.76,431.00C332.94,432.29 334.32,434.15 335.12,437.30C335.93,440.45 336.18,446.19 335.61,449.91C335.04,453.63 333.67,457.10 331.73,459.61C329.79,462.12 326.72,464.30 323.97,464.94C321.22,465.59 317.42,465.19 315.24,463.49C313.06,461.79 311.68,458.64 310.88,454.76C310.07,450.88 309.82,443.93 310.39,440.21Z" fill="none" stroke="#d3c1a5" stroke-opacity="0.8" stroke-width="1.8" filter="url(#b1)"/>
<g fill="none" stroke="#cbcbcb" stroke-opacity="0.8" stroke-width="0.55" filter="url(#b05)"><path d="M333.00,446.00C335.33,444.17 341.00,444.33 344.00,445.00C347.00,445.67 349.67,447.50 351.00,450.00C352.33,452.50 352.83,457.33 352.00,460.00C351.17,462.67 349.00,464.92 346.00,466.00C343.00,467.08 337.00,465.50 334.00,466.50C331.00,467.50 330.00,470.00 328.00,472.00C326.00,474.00 324.33,477.83 322.00,478.50C319.67,479.17 315.50,477.75 314.00,476.00C312.50,474.25 312.00,470.33 313.00,468.00C314.00,465.67 317.17,464.00 320.00,462.00C322.83,460.00 327.83,458.67 330.00,456.00C332.17,453.33 330.67,447.83 333.00,446.00Z"/><path d="M333.11,447.54C335.19,445.91 340.23,446.06 342.90,446.65C345.57,447.24 347.94,448.88 349.13,451.10C350.32,453.33 350.76,457.63 350.02,460.00C349.28,462.37 347.35,464.38 344.68,465.34C342.01,466.30 336.67,464.90 334.00,465.79C331.33,466.68 330.44,468.90 328.66,470.68C326.88,472.46 325.40,475.87 323.32,476.46C321.24,477.06 317.53,475.80 316.20,474.24C314.87,472.68 314.42,469.20 315.31,467.12C316.20,465.04 319.02,463.56 321.54,461.78C324.06,460.00 328.51,458.81 330.44,456.44C332.37,454.07 331.03,449.17 333.11,447.54Z"/><path d="M333.22,449.08C335.04,447.65 339.46,447.78 341.80,448.30C344.14,448.82 346.22,450.25 347.26,452.20C348.30,454.15 348.69,457.92 348.04,460.00C347.39,462.08 345.70,463.84 343.36,464.68C341.02,465.52 336.34,464.29 334.00,465.07C331.66,465.85 330.88,467.80 329.32,469.36C327.76,470.92 326.46,473.91 324.64,474.43C322.82,474.95 319.57,473.85 318.40,472.48C317.23,471.12 316.84,468.06 317.62,466.24C318.40,464.42 320.87,463.12 323.08,461.56C325.29,460.00 329.19,458.96 330.88,456.88C332.57,454.80 331.40,450.51 333.22,449.08Z"/><path d="M333.33,450.62C334.89,449.39 338.69,449.50 340.70,449.95C342.71,450.40 344.50,451.62 345.39,453.30C346.28,454.98 346.62,458.21 346.06,460.00C345.50,461.79 344.05,463.29 342.04,464.02C340.03,464.75 336.01,463.69 334.00,464.36C331.99,465.03 331.32,466.70 329.98,468.04C328.64,469.38 327.52,471.95 325.96,472.39C324.40,472.84 321.61,471.89 320.60,470.72C319.60,469.55 319.26,466.92 319.93,465.36C320.60,463.80 322.72,462.68 324.62,461.34C326.52,460.00 329.87,459.11 331.32,457.32C332.77,455.53 331.77,451.85 333.33,450.62Z"/><path d="M333.44,452.16C334.75,451.13 337.92,451.23 339.60,451.60C341.28,451.97 342.77,453.00 343.52,454.40C344.27,455.80 344.55,458.51 344.08,460.00C343.61,461.49 342.40,462.75 340.72,463.36C339.04,463.97 335.68,463.08 334.00,463.64C332.32,464.20 331.76,465.60 330.64,466.72C329.52,467.84 328.59,469.99 327.28,470.36C325.97,470.73 323.64,469.94 322.80,468.96C321.96,467.98 321.68,465.79 322.24,464.48C322.80,463.17 324.57,462.24 326.16,461.12C327.75,460.00 330.55,459.25 331.76,457.76C332.97,456.27 332.13,453.19 333.44,452.16Z"/><path d="M333.55,453.70C334.60,452.88 337.15,452.95 338.50,453.25C339.85,453.55 341.05,454.38 341.65,455.50C342.25,456.62 342.48,458.80 342.10,460.00C341.73,461.20 340.75,462.21 339.40,462.70C338.05,463.19 335.35,462.48 334.00,462.93C332.65,463.38 332.20,464.50 331.30,465.40C330.40,466.30 329.65,468.02 328.60,468.32C327.55,468.62 325.68,467.99 325.00,467.20C324.32,466.41 324.10,464.65 324.55,463.60C325.00,462.55 326.43,461.80 327.70,460.90C328.97,460.00 331.22,459.40 332.20,458.20C333.18,457.00 332.50,454.52 333.55,453.70Z"/></g>
<path d="M313.64,442.52C314.06,439.76 315.08,438.08 316.52,436.76C317.96,435.44 320.24,434.78 322.28,434.60C324.32,434.42 327.14,434.72 328.76,435.68C330.38,436.64 331.40,438.02 332.00,440.36C332.60,442.70 332.78,446.96 332.36,449.72C331.94,452.48 330.92,455.06 329.48,456.92C328.04,458.78 325.76,460.40 323.72,460.88C321.68,461.36 318.86,461.06 317.24,459.80C315.62,458.54 314.60,456.20 314.00,453.32C313.40,450.44 313.22,445.28 313.64,442.52Z" fill="none" stroke="#cfc2b0" stroke-opacity="0.55" stroke-width="0.8" filter="url(#b05)"/>
<ellipse cx="322.8" cy="438.5" rx="11.5" ry="9.5" fill="#b89274" fill-opacity="0.7" transform="rotate(0 322.8 438.5)" filter="url(#b1)"/>
<ellipse cx="322.5" cy="437.5" rx="7" ry="6" fill="#a47e80" fill-opacity="0.6" transform="rotate(0 322.5 437.5)" filter="url(#b1)"/>
<ellipse cx="323" cy="442.5" rx="4.2" ry="3.8" fill="#8a76c6" fill-opacity="0.85" transform="rotate(0 323 442.5)" filter="url(#b1)"/>
<ellipse cx="323" cy="452" rx="6" ry="4.5" fill="#dde6cc" fill-opacity="0.7" transform="rotate(0 323 452)" filter="url(#b1)"/>
<g fill="none" stroke="#cbcbcb" stroke-opacity="0.8" stroke-width="0.55" filter="url(#b05)"><path d="M411.00,462.00C412.33,459.83 415.83,457.83 418.00,458.00C420.17,458.17 422.92,460.67 424.00,463.00C425.08,465.33 425.17,469.42 424.50,472.00C423.83,474.58 421.92,477.50 420.00,478.50C418.08,479.50 414.67,479.25 413.00,478.00C411.33,476.75 410.33,473.67 410.00,471.00C409.67,468.33 409.67,464.17 411.00,462.00Z"/><path d="M411.90,463.20C413.03,461.36 416.01,459.66 417.85,459.80C419.69,459.94 422.03,462.07 422.95,464.05C423.87,466.03 423.94,469.50 423.38,471.70C422.81,473.90 421.18,476.38 419.55,477.23C417.92,478.08 415.02,477.86 413.60,476.80C412.18,475.74 411.33,473.12 411.05,470.85C410.77,468.58 410.77,465.04 411.90,463.20Z"/><path d="M412.80,464.40C413.73,462.88 416.18,461.48 417.70,461.60C419.22,461.72 421.14,463.47 421.90,465.10C422.66,466.73 422.72,469.59 422.25,471.40C421.78,473.21 420.44,475.25 419.10,475.95C417.76,476.65 415.37,476.48 414.20,475.60C413.03,474.73 412.33,472.57 412.10,470.70C411.87,468.83 411.87,465.92 412.80,464.40Z"/><path d="M413.70,465.60C414.43,464.41 416.36,463.31 417.55,463.40C418.74,463.49 420.25,464.87 420.85,466.15C421.45,467.43 421.49,469.68 421.12,471.10C420.76,472.52 419.70,474.12 418.65,474.68C417.60,475.23 415.72,475.09 414.80,474.40C413.88,473.71 413.33,472.02 413.15,470.55C412.97,469.08 412.97,466.79 413.70,465.60Z"/><path d="M414.60,466.80C415.13,465.93 416.53,465.13 417.40,465.20C418.27,465.27 419.37,466.27 419.80,467.20C420.23,468.13 420.27,469.77 420.00,470.80C419.73,471.83 418.97,473.00 418.20,473.40C417.43,473.80 416.07,473.70 415.40,473.20C414.73,472.70 414.33,471.47 414.20,470.40C414.07,469.33 414.07,467.67 414.60,466.80Z"/></g>
<path d="M408.00,440.00C408.33,436.67 409.17,433.75 411.00,432.00C412.83,430.25 416.00,429.58 419.00,429.50C422.00,429.42 426.17,430.25 429.00,431.50C431.83,432.75 434.17,434.42 436.00,437.00C437.83,439.58 439.58,443.50 440.00,447.00C440.42,450.50 439.83,454.92 438.50,458.00C437.17,461.08 434.75,464.08 432.00,465.50C429.25,466.92 425.17,467.08 422.00,466.50C418.83,465.92 415.17,464.42 413.00,462.00C410.83,459.58 409.83,455.67 409.00,452.00C408.17,448.33 407.67,443.33 408.00,440.00Z" fill="#eee7dc" fill-opacity="0.8" filter="url(#b1)"/>
<path d="M408.48,440.24C408.80,437.01 409.61,434.18 411.39,432.48C413.17,430.78 416.24,430.14 419.15,430.06C422.06,429.97 426.10,430.78 428.85,432.00C431.60,433.21 433.86,434.82 435.64,437.33C437.42,439.84 439.12,443.63 439.52,447.03C439.92,450.42 439.36,454.71 438.06,457.70C436.77,460.69 434.43,463.60 431.76,464.98C429.09,466.35 425.13,466.51 422.06,465.94C418.99,465.38 415.43,463.92 413.33,461.58C411.23,459.24 410.26,455.44 409.45,451.88C408.64,448.32 408.16,443.47 408.48,440.24Z" fill="none" stroke="#d3c1a5" stroke-opacity="0.8" stroke-width="1.8" filter="url(#b1)"/>
<path d="M412.80,443.00C413.03,440.67 413.62,438.62 414.90,437.40C416.18,436.17 418.40,435.71 420.50,435.65C422.60,435.59 425.52,436.18 427.50,437.05C429.48,437.93 431.12,439.09 432.40,440.90C433.68,442.71 434.91,445.45 435.20,447.90C435.49,450.35 435.08,453.44 434.15,455.60C433.22,457.76 431.53,459.86 429.60,460.85C427.68,461.84 424.82,461.96 422.60,461.55C420.38,461.14 417.82,460.09 416.30,458.40C414.78,456.71 414.08,453.97 413.50,451.40C412.92,448.83 412.57,445.33 412.80,443.00Z" fill="none" stroke="#cfc2b0" stroke-opacity="0.55" stroke-width="0.8" filter="url(#b05)"/>
<ellipse cx="421" cy="439" rx="13.5" ry="8.5" fill="url(#gpb2)" fill-opacity="0.75" filter="url(#b1)"/>
<ellipse cx="414.5" cy="437" rx="6.5" ry="7" fill="#8470bc" fill-opacity="0.75" transform="rotate(0 414.5 437)" filter="url(#b1)"/>
<ellipse cx="425" cy="452" rx="5" ry="4" fill="#e4e6d4" fill-opacity="0.7" transform="rotate(0 425 452)" filter="url(#b1)"/>
<rect x="0.8" y="0.8" width="518.4" height="535.4" fill="none" stroke="#000" stroke-width="1.6"/>
</svg></div></body></html>
